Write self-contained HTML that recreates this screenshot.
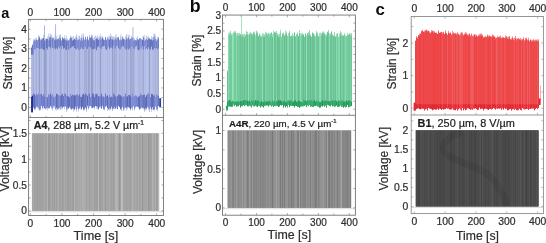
<!DOCTYPE html>
<html><head><meta charset="utf-8"><style>
html,body{margin:0;padding:0;background:#fff;width:546px;height:243px;overflow:hidden}
svg{display:block;will-change:transform;filter:blur(0.3px)}
text{font-family:"Liberation Sans", sans-serif}
</style></head><body>
<svg width="546" height="243" viewBox="0 0 546 243" font-family='"Liberation Sans", sans-serif'>
<rect width="546" height="243" fill="#fff"/>
<defs><filter id="soft" x="-5%" y="-5%" width="110%" height="110%"><feGaussianBlur stdDeviation="0.45"/></filter></defs>
<g filter="url(#soft)">
<rect x="31" y="46.49" width="1" height="60.64" fill="#c4caea"/>
<rect x="31" y="47.78" width="1" height="59.13" fill="#b1bbe3"/>
<rect x="31" y="47.78" width="1" height="6.85" fill="#6674ba"/>
<rect x="31" y="96.73" width="1" height="15.67" fill="#283ca5"/>
<rect x="32" y="44.69" width="1" height="64.76" fill="#c3c9e9"/>
<rect x="32" y="44.84" width="1" height="64.34" fill="#afb9e1"/>
<rect x="32" y="44.84" width="1" height="9.79" fill="#6977bd"/>
<rect x="32" y="95.62" width="1" height="16.77" fill="#1d319a"/>
<rect x="33" y="39.40" width="1" height="68.99" fill="#bdc3e3"/>
<rect x="33" y="41.91" width="1" height="65.29" fill="#a2acd4"/>
<rect x="33" y="41.91" width="1" height="12.73" fill="#8694da"/>
<rect x="33" y="93.61" width="1" height="13.59" fill="#6674be"/>
<rect x="34" y="39.13" width="1" height="71.37" fill="#c5cbeb"/>
<rect x="34" y="40.36" width="1" height="68.39" fill="#b2bce4"/>
<rect x="34" y="40.36" width="1" height="9.26" fill="#7a88ce"/>
<rect x="34" y="94.12" width="1" height="14.63" fill="#5d6bb5"/>
<rect x="35" y="37.97" width="1" height="72.01" fill="#c4caea"/>
<rect x="35" y="40.69" width="1" height="67.53" fill="#afb9e1"/>
<rect x="35" y="40.69" width="1" height="8.55" fill="#8492d8"/>
<rect x="35" y="95.64" width="1" height="12.58" fill="#7684ce"/>
<rect x="36" y="37.87" width="1" height="69.59" fill="#bdc3e3"/>
<rect x="36" y="39.97" width="1" height="66.63" fill="#a2acd4"/>
<rect x="36" y="39.97" width="1" height="7.68" fill="#7583c9"/>
<rect x="36" y="93.89" width="1" height="12.71" fill="#7886d0"/>
<rect x="37" y="40.18" width="1" height="68.01" fill="#c7cded"/>
<rect x="37" y="40.33" width="1" height="66.13" fill="#b6c0e8"/>
<rect x="37" y="40.33" width="1" height="7.69" fill="#808ed4"/>
<rect x="37" y="94.70" width="1" height="11.76" fill="#7280ca"/>
<rect x="38" y="35.30" width="1" height="74.30" fill="#c0c6e6"/>
<rect x="38" y="38.66" width="1" height="68.94" fill="#a9b3db"/>
<rect x="38" y="38.66" width="1" height="9.51" fill="#7e8cd2"/>
<rect x="38" y="93.62" width="1" height="13.98" fill="#8290da"/>
<rect x="39" y="36.17" width="1" height="74.59" fill="#b6bcdc"/>
<rect x="39" y="37.71" width="1" height="71.66" fill="#959fc7"/>
<rect x="39" y="37.71" width="1" height="11.20" fill="#6674ba"/>
<rect x="39" y="94.70" width="1" height="14.67" fill="#7987d1"/>
<rect x="40" y="38.86" width="1" height="71.63" fill="#c4caea"/>
<rect x="40" y="40.42" width="1" height="68.72" fill="#b1bbe3"/>
<rect x="40" y="40.42" width="1" height="8.64" fill="#8593d9"/>
<rect x="40" y="93.91" width="1" height="15.24" fill="#7d8bd5"/>
<rect x="41" y="38.40" width="1" height="67.76" fill="#c1c7e7"/>
<rect x="41" y="39.84" width="1" height="65.87" fill="#abb5dd"/>
<rect x="41" y="39.84" width="1" height="8.50" fill="#6d7bc1"/>
<rect x="41" y="93.86" width="1" height="11.85" fill="#6d7bc5"/>
<rect x="42" y="38.60" width="1" height="71.11" fill="#c8ceee"/>
<rect x="42" y="38.62" width="1" height="69.39" fill="#b7c1e9"/>
<rect x="42" y="38.62" width="1" height="10.38" fill="#7987cd"/>
<rect x="42" y="95.68" width="1" height="12.33" fill="#7381cb"/>
<rect x="43" y="34.68" width="1" height="73.75" fill="#c3c9e9"/>
<rect x="43" y="38.28" width="1" height="67.75" fill="#aeb8e0"/>
<rect x="43" y="38.28" width="1" height="11.62" fill="#6876bc"/>
<rect x="43" y="94.26" width="1" height="11.77" fill="#7381cb"/>
<rect x="44" y="39.85" width="1" height="68.43" fill="#b5bbdb"/>
<rect x="44" y="40.68" width="1" height="67.44" fill="#929cc4"/>
<rect x="44" y="40.68" width="1" height="9.16" fill="#6876bc"/>
<rect x="44" y="96.68" width="1" height="11.44" fill="#6977c1"/>
<rect x="45" y="38.37" width="1" height="71.14" fill="#b8bede"/>
<rect x="45" y="40.83" width="1" height="67.64" fill="#98a2ca"/>
<rect x="45" y="40.83" width="1" height="5.54" fill="#8694da"/>
<rect x="45" y="96.74" width="1" height="11.73" fill="#8290da"/>
<rect x="46" y="38.76" width="1" height="70.15" fill="#bcc2e2"/>
<rect x="46" y="39.10" width="1" height="69.01" fill="#9fa9d1"/>
<rect x="46" y="39.10" width="1" height="8.94" fill="#6573b9"/>
<rect x="46" y="96.92" width="1" height="11.20" fill="#808ed8"/>
<rect x="47" y="36.69" width="1" height="73.64" fill="#c7cded"/>
<rect x="47" y="38.86" width="1" height="68.53" fill="#b6c0e8"/>
<rect x="47" y="38.86" width="1" height="10.64" fill="#6e7cc2"/>
<rect x="47" y="97.21" width="1" height="10.18" fill="#6977c1"/>
<rect x="48" y="38.14" width="1" height="70.69" fill="#c6ccec"/>
<rect x="48" y="40.27" width="1" height="67.89" fill="#b5bfe7"/>
<rect x="48" y="40.27" width="1" height="6.53" fill="#8694da"/>
<rect x="48" y="94.27" width="1" height="13.90" fill="#7a88d2"/>
<rect x="49" y="36.82" width="1" height="71.34" fill="#c0c6e6"/>
<rect x="49" y="37.72" width="1" height="70.34" fill="#a8b2da"/>
<rect x="49" y="37.72" width="1" height="9.22" fill="#6e7cc2"/>
<rect x="49" y="95.29" width="1" height="12.77" fill="#7684ce"/>
<rect x="50" y="33.43" width="1" height="73.38" fill="#c2c8e8"/>
<rect x="50" y="37.18" width="1" height="68.54" fill="#acb6de"/>
<rect x="50" y="37.18" width="1" height="11.02" fill="#6c7ac0"/>
<rect x="50" y="93.45" width="1" height="12.27" fill="#6270ba"/>
<rect x="51" y="35.12" width="1" height="74.18" fill="#c1c7e7"/>
<rect x="51" y="38.48" width="1" height="68.42" fill="#a9b3db"/>
<rect x="51" y="38.48" width="1" height="7.77" fill="#8896dc"/>
<rect x="51" y="95.44" width="1" height="11.46" fill="#7987d1"/>
<rect x="52" y="37.28" width="1" height="73.28" fill="#c8ceee"/>
<rect x="52" y="37.99" width="1" height="70.17" fill="#b8c2ea"/>
<rect x="52" y="37.99" width="1" height="10.08" fill="#7482c8"/>
<rect x="52" y="94.23" width="1" height="13.93" fill="#808ed8"/>
<rect x="53" y="37.58" width="1" height="70.75" fill="#c1c7e7"/>
<rect x="53" y="38.09" width="1" height="67.82" fill="#aab4dc"/>
<rect x="53" y="38.09" width="1" height="11.31" fill="#8b99df"/>
<rect x="53" y="96.73" width="1" height="9.19" fill="#7482cc"/>
<rect x="54" y="39.03" width="1" height="68.57" fill="#c4caea"/>
<rect x="54" y="39.56" width="1" height="66.10" fill="#b0bae2"/>
<rect x="54" y="39.56" width="1" height="8.21" fill="#7583c9"/>
<rect x="54" y="97.26" width="1" height="8.39" fill="#7d8bd5"/>
<rect x="55" y="36.69" width="1" height="73.59" fill="#c2c8e8"/>
<rect x="55" y="37.69" width="1" height="70.82" fill="#acb6de"/>
<rect x="55" y="37.69" width="1" height="11.53" fill="#6977bd"/>
<rect x="55" y="96.17" width="1" height="12.34" fill="#7e8cd6"/>
<rect x="56" y="37.21" width="1" height="73.35" fill="#c4caea"/>
<rect x="56" y="39.54" width="1" height="68.27" fill="#b0bae2"/>
<rect x="56" y="39.54" width="1" height="8.61" fill="#7987cd"/>
<rect x="56" y="93.78" width="1" height="14.03" fill="#5b69b3"/>
<rect x="57" y="39.19" width="1" height="71.01" fill="#c6ccec"/>
<rect x="57" y="39.20" width="1" height="69.58" fill="#b4bee6"/>
<rect x="57" y="39.20" width="1" height="10.14" fill="#717fc5"/>
<rect x="57" y="94.19" width="1" height="14.59" fill="#6f7dc7"/>
<rect x="58" y="38.33" width="1" height="70.99" fill="#c6ccec"/>
<rect x="58" y="38.75" width="1" height="69.73" fill="#b4bee6"/>
<rect x="58" y="38.75" width="1" height="8.00" fill="#7a88ce"/>
<rect x="58" y="95.12" width="1" height="13.36" fill="#7886d0"/>
<rect x="59" y="34.90" width="1" height="74.63" fill="#c4caea"/>
<rect x="59" y="37.35" width="1" height="70.10" fill="#afb9e1"/>
<rect x="59" y="37.35" width="1" height="10.87" fill="#7785cb"/>
<rect x="59" y="95.34" width="1" height="12.11" fill="#808ed8"/>
<rect x="60" y="34.42" width="1" height="75.68" fill="#bcc2e2"/>
<rect x="60" y="38.19" width="1" height="69.08" fill="#9fa9d1"/>
<rect x="60" y="38.19" width="1" height="8.16" fill="#6977bd"/>
<rect x="60" y="96.30" width="1" height="10.97" fill="#6c7ac4"/>
<rect x="61" y="40.35" width="1" height="68.73" fill="#c1c7e7"/>
<rect x="61" y="40.64" width="1" height="65.74" fill="#aab4dc"/>
<rect x="61" y="40.64" width="1" height="8.45" fill="#7e8cd2"/>
<rect x="61" y="94.70" width="1" height="11.69" fill="#606eb8"/>
<rect x="62" y="36.59" width="1" height="72.77" fill="#c8ceee"/>
<rect x="62" y="37.47" width="1" height="70.43" fill="#b8c2ea"/>
<rect x="62" y="37.47" width="1" height="8.49" fill="#6a78be"/>
<rect x="62" y="93.59" width="1" height="14.31" fill="#6b79c3"/>
<rect x="63" y="38.13" width="1" height="68.56" fill="#c4caea"/>
<rect x="63" y="38.91" width="1" height="67.72" fill="#b1bbe3"/>
<rect x="63" y="38.91" width="1" height="9.76" fill="#6573b9"/>
<rect x="63" y="96.07" width="1" height="10.56" fill="#6775bf"/>
<rect x="64" y="38.23" width="1" height="71.06" fill="#c1c7e7"/>
<rect x="64" y="38.48" width="1" height="67.89" fill="#aab4dc"/>
<rect x="64" y="38.48" width="1" height="9.44" fill="#6674ba"/>
<rect x="64" y="93.46" width="1" height="12.91" fill="#7987d1"/>
<rect x="65" y="38.18" width="1" height="68.85" fill="#c1c7e7"/>
<rect x="65" y="39.87" width="1" height="66.38" fill="#aab4dc"/>
<rect x="65" y="39.87" width="1" height="9.70" fill="#7b89cf"/>
<rect x="65" y="93.75" width="1" height="12.50" fill="#7684ce"/>
<rect x="66" y="37.82" width="1" height="74.16" fill="#c5cbeb"/>
<rect x="66" y="40.58" width="1" height="68.60" fill="#b2bce4"/>
<rect x="66" y="40.58" width="1" height="9.31" fill="#6775bb"/>
<rect x="66" y="95.65" width="1" height="13.52" fill="#7c8ad4"/>
<rect x="67" y="38.85" width="1" height="71.22" fill="#b7bddd"/>
<rect x="67" y="40.67" width="1" height="66.63" fill="#96a0c8"/>
<rect x="67" y="40.67" width="1" height="5.75" fill="#7987cd"/>
<rect x="67" y="95.99" width="1" height="11.30" fill="#6472bc"/>
<rect x="68" y="40.30" width="1" height="68.85" fill="#c6ccec"/>
<rect x="68" y="40.50" width="1" height="67.74" fill="#b4bee6"/>
<rect x="68" y="40.50" width="1" height="8.94" fill="#7886cc"/>
<rect x="68" y="96.53" width="1" height="11.71" fill="#616fb9"/>
<rect x="69" y="38.57" width="1" height="69.67" fill="#c2c8e8"/>
<rect x="69" y="39.57" width="1" height="67.02" fill="#abb5dd"/>
<rect x="69" y="39.57" width="1" height="10.48" fill="#8997dd"/>
<rect x="69" y="97.26" width="1" height="9.33" fill="#5e6cb6"/>
<rect x="70" y="35.74" width="1" height="73.70" fill="#c6ccec"/>
<rect x="70" y="37.72" width="1" height="70.20" fill="#b3bde5"/>
<rect x="70" y="37.72" width="1" height="10.55" fill="#7280c6"/>
<rect x="70" y="94.05" width="1" height="13.87" fill="#7b89d3"/>
<rect x="71" y="36.54" width="1" height="73.09" fill="#c1c7e7"/>
<rect x="71" y="38.16" width="1" height="71.08" fill="#a9b3db"/>
<rect x="71" y="38.16" width="1" height="9.23" fill="#6e7cc2"/>
<rect x="71" y="95.96" width="1" height="13.29" fill="#616fb9"/>
<rect x="72" y="37.12" width="1" height="71.97" fill="#c2c8e8"/>
<rect x="72" y="40.60" width="1" height="67.76" fill="#adb7df"/>
<rect x="72" y="40.60" width="1" height="5.91" fill="#6a78be"/>
<rect x="72" y="94.69" width="1" height="13.66" fill="#6c7ac4"/>
<rect x="73" y="36.01" width="1" height="75.39" fill="#c2c8e8"/>
<rect x="73" y="39.90" width="1" height="68.60" fill="#adb7df"/>
<rect x="73" y="39.90" width="1" height="6.09" fill="#6472b8"/>
<rect x="73" y="95.18" width="1" height="13.32" fill="#6977c1"/>
<rect x="74" y="38.27" width="1" height="71.97" fill="#c1c7e7"/>
<rect x="74" y="39.07" width="1" height="70.37" fill="#a9b3db"/>
<rect x="74" y="39.07" width="1" height="8.90" fill="#6674ba"/>
<rect x="74" y="95.34" width="1" height="14.10" fill="#5b69b3"/>
<rect x="75" y="37.39" width="1" height="71.10" fill="#c6ccec"/>
<rect x="75" y="39.74" width="1" height="66.78" fill="#b3bde5"/>
<rect x="75" y="39.74" width="1" height="9.39" fill="#7482c8"/>
<rect x="75" y="95.25" width="1" height="11.27" fill="#6775bf"/>
<rect x="76" y="34.18" width="1" height="77.62" fill="#c7cded"/>
<rect x="76" y="37.07" width="1" height="72.21" fill="#b6c0e8"/>
<rect x="76" y="37.07" width="1" height="12.41" fill="#818fd5"/>
<rect x="76" y="94.80" width="1" height="14.49" fill="#7a88d2"/>
<rect x="77" y="38.36" width="1" height="70.42" fill="#c5cbeb"/>
<rect x="77" y="40.38" width="1" height="65.92" fill="#b1bbe3"/>
<rect x="77" y="40.38" width="1" height="7.49" fill="#7f8dd3"/>
<rect x="77" y="94.05" width="1" height="12.26" fill="#7684ce"/>
<rect x="78" y="39.50" width="1" height="72.06" fill="#c4caea"/>
<rect x="78" y="40.03" width="1" height="69.02" fill="#b1bbe3"/>
<rect x="78" y="40.03" width="1" height="9.97" fill="#7d8bd1"/>
<rect x="78" y="95.91" width="1" height="13.14" fill="#7583cd"/>
<rect x="79" y="35.82" width="1" height="73.27" fill="#bac0e0"/>
<rect x="79" y="39.01" width="1" height="68.48" fill="#9da7cf"/>
<rect x="79" y="39.01" width="1" height="11.10" fill="#818fd5"/>
<rect x="79" y="94.39" width="1" height="13.10" fill="#6472bc"/>
<rect x="80" y="37.72" width="1" height="71.77" fill="#c4caea"/>
<rect x="80" y="40.64" width="1" height="65.92" fill="#b0bae2"/>
<rect x="80" y="40.64" width="1" height="8.35" fill="#7785cb"/>
<rect x="80" y="96.51" width="1" height="10.05" fill="#7583cd"/>
<rect x="81" y="35.35" width="1" height="74.29" fill="#c6ccec"/>
<rect x="81" y="37.92" width="1" height="70.96" fill="#b4bee6"/>
<rect x="81" y="37.92" width="1" height="9.55" fill="#7b89cf"/>
<rect x="81" y="97.02" width="1" height="11.87" fill="#5a68b2"/>
<rect x="82" y="38.00" width="1" height="69.68" fill="#c4caea"/>
<rect x="82" y="40.69" width="1" height="66.12" fill="#b0bae2"/>
<rect x="82" y="40.69" width="1" height="8.28" fill="#7785cb"/>
<rect x="82" y="94.61" width="1" height="12.20" fill="#5f6db7"/>
<rect x="83" y="33.52" width="1" height="77.25" fill="#c7cded"/>
<rect x="83" y="37.43" width="1" height="71.96" fill="#b5bfe7"/>
<rect x="83" y="37.43" width="1" height="11.84" fill="#7684ca"/>
<rect x="83" y="93.65" width="1" height="15.74" fill="#6573bd"/>
<rect x="84" y="39.26" width="1" height="71.21" fill="#bdc3e3"/>
<rect x="84" y="40.11" width="1" height="68.80" fill="#a1abd3"/>
<rect x="84" y="40.11" width="1" height="5.95" fill="#8593d9"/>
<rect x="84" y="95.04" width="1" height="13.86" fill="#6e7cc6"/>
<rect x="85" y="36.53" width="1" height="71.10" fill="#c0c6e6"/>
<rect x="85" y="37.46" width="1" height="70.10" fill="#a8b2da"/>
<rect x="85" y="37.46" width="1" height="9.65" fill="#7684ca"/>
<rect x="85" y="93.80" width="1" height="13.75" fill="#6674be"/>
<rect x="86" y="39.11" width="1" height="72.59" fill="#bcc2e2"/>
<rect x="86" y="40.38" width="1" height="69.07" fill="#9fa9d1"/>
<rect x="86" y="40.38" width="1" height="8.27" fill="#8997dd"/>
<rect x="86" y="94.03" width="1" height="15.42" fill="#7785cf"/>
<rect x="87" y="35.91" width="1" height="71.41" fill="#c3c9e9"/>
<rect x="87" y="37.40" width="1" height="68.15" fill="#aeb8e0"/>
<rect x="87" y="37.40" width="1" height="11.48" fill="#6f7dc3"/>
<rect x="87" y="95.78" width="1" height="9.77" fill="#5c6ab4"/>
<rect x="88" y="39.39" width="1" height="69.89" fill="#b9bfdf"/>
<rect x="88" y="40.53" width="1" height="67.95" fill="#9aa4cc"/>
<rect x="88" y="40.53" width="1" height="6.01" fill="#7381c7"/>
<rect x="88" y="93.65" width="1" height="14.83" fill="#808ed8"/>
<rect x="89" y="34.94" width="1" height="72.48" fill="#bbc1e1"/>
<rect x="89" y="37.47" width="1" height="68.31" fill="#9ea8d0"/>
<rect x="89" y="37.47" width="1" height="9.17" fill="#818fd5"/>
<rect x="89" y="93.74" width="1" height="12.03" fill="#6c7ac4"/>
<rect x="90" y="36.84" width="1" height="69.37" fill="#c4caea"/>
<rect x="90" y="37.98" width="1" height="67.85" fill="#b0bae2"/>
<rect x="90" y="37.98" width="1" height="9.37" fill="#707ec4"/>
<rect x="90" y="97.13" width="1" height="8.70" fill="#7886d0"/>
<rect x="91" y="34.48" width="1" height="73.98" fill="#b6bcdc"/>
<rect x="91" y="37.10" width="1" height="70.17" fill="#959fc7"/>
<rect x="91" y="37.10" width="1" height="11.91" fill="#6c7ac0"/>
<rect x="91" y="96.14" width="1" height="11.14" fill="#7e8cd6"/>
<rect x="92" y="35.36" width="1" height="72.76" fill="#b7bddd"/>
<rect x="92" y="38.98" width="1" height="68.71" fill="#959fc7"/>
<rect x="92" y="38.98" width="1" height="10.20" fill="#7280c6"/>
<rect x="92" y="93.42" width="1" height="14.28" fill="#5e6cb6"/>
<rect x="93" y="37.71" width="1" height="70.05" fill="#c3c9e9"/>
<rect x="93" y="39.99" width="1" height="66.53" fill="#afb9e1"/>
<rect x="93" y="39.99" width="1" height="9.03" fill="#7381c7"/>
<rect x="93" y="93.84" width="1" height="12.68" fill="#6876c0"/>
<rect x="94" y="36.81" width="1" height="72.56" fill="#c7cded"/>
<rect x="94" y="40.68" width="1" height="66.80" fill="#b6c0e8"/>
<rect x="94" y="40.68" width="1" height="8.25" fill="#6f7dc3"/>
<rect x="94" y="96.83" width="1" height="10.66" fill="#6472bc"/>
<rect x="95" y="35.55" width="1" height="70.56" fill="#c0c6e6"/>
<rect x="95" y="39.36" width="1" height="66.68" fill="#a9b3db"/>
<rect x="95" y="39.36" width="1" height="8.85" fill="#8896dc"/>
<rect x="95" y="93.99" width="1" height="12.04" fill="#6d7bc5"/>
<rect x="96" y="37.06" width="1" height="71.73" fill="#c8ceee"/>
<rect x="96" y="38.63" width="1" height="67.60" fill="#b8c2ea"/>
<rect x="96" y="38.63" width="1" height="11.50" fill="#6876bc"/>
<rect x="96" y="93.69" width="1" height="12.54" fill="#606eb8"/>
<rect x="97" y="35.12" width="1" height="74.10" fill="#c4caea"/>
<rect x="97" y="38.88" width="1" height="68.04" fill="#afb9e1"/>
<rect x="97" y="38.88" width="1" height="8.31" fill="#6674ba"/>
<rect x="97" y="94.49" width="1" height="12.43" fill="#7987d1"/>
<rect x="98" y="37.44" width="1" height="72.28" fill="#c5cbeb"/>
<rect x="98" y="40.02" width="1" height="68.94" fill="#b2bce4"/>
<rect x="98" y="40.02" width="1" height="6.15" fill="#6876bc"/>
<rect x="98" y="96.13" width="1" height="12.83" fill="#5d6bb5"/>
<rect x="99" y="37.32" width="1" height="69.81" fill="#c2c8e8"/>
<rect x="99" y="38.87" width="1" height="68.23" fill="#adb7df"/>
<rect x="99" y="38.87" width="1" height="8.75" fill="#8a98de"/>
<rect x="99" y="96.44" width="1" height="10.66" fill="#7482cc"/>
<rect x="100" y="36.53" width="1" height="71.28" fill="#b7bddd"/>
<rect x="100" y="37.47" width="1" height="68.23" fill="#97a1c9"/>
<rect x="100" y="37.47" width="1" height="10.62" fill="#7886cc"/>
<rect x="100" y="96.35" width="1" height="9.35" fill="#7583cd"/>
<rect x="101" y="36.61" width="1" height="72.06" fill="#c3c9e9"/>
<rect x="101" y="39.28" width="1" height="69.29" fill="#adb7df"/>
<rect x="101" y="39.28" width="1" height="9.74" fill="#7f8dd3"/>
<rect x="101" y="93.70" width="1" height="14.87" fill="#6270ba"/>
<rect x="102" y="35.79" width="1" height="70.81" fill="#c7cded"/>
<rect x="102" y="37.81" width="1" height="67.85" fill="#b5bfe7"/>
<rect x="102" y="37.81" width="1" height="9.14" fill="#6d7bc1"/>
<rect x="102" y="96.51" width="1" height="9.15" fill="#7886d0"/>
<rect x="103" y="37.79" width="1" height="72.04" fill="#c5cbeb"/>
<rect x="103" y="39.77" width="1" height="68.81" fill="#b3bde5"/>
<rect x="103" y="39.77" width="1" height="6.26" fill="#6a78be"/>
<rect x="103" y="96.58" width="1" height="12.00" fill="#6a78c2"/>
<rect x="104" y="39.53" width="1" height="70.88" fill="#c7cded"/>
<rect x="104" y="40.09" width="1" height="69.13" fill="#b6c0e8"/>
<rect x="104" y="40.09" width="1" height="5.84" fill="#818fd5"/>
<rect x="104" y="97.12" width="1" height="12.11" fill="#8290da"/>
<rect x="105" y="36.54" width="1" height="70.09" fill="#c5cbeb"/>
<rect x="105" y="37.28" width="1" height="69.26" fill="#b3bde5"/>
<rect x="105" y="37.28" width="1" height="11.43" fill="#7381c7"/>
<rect x="105" y="93.65" width="1" height="12.88" fill="#6775bf"/>
<rect x="106" y="39.15" width="1" height="66.94" fill="#c8ceee"/>
<rect x="106" y="40.27" width="1" height="65.45" fill="#b7c1e9"/>
<rect x="106" y="40.27" width="1" height="9.85" fill="#7280c6"/>
<rect x="106" y="95.94" width="1" height="9.77" fill="#7b89d3"/>
<rect x="107" y="37.51" width="1" height="73.24" fill="#c2c8e8"/>
<rect x="107" y="37.71" width="1" height="70.29" fill="#abb5dd"/>
<rect x="107" y="37.71" width="1" height="10.56" fill="#8896dc"/>
<rect x="107" y="95.46" width="1" height="12.53" fill="#5b69b3"/>
<rect x="108" y="36.25" width="1" height="73.26" fill="#c7cded"/>
<rect x="108" y="39.32" width="1" height="70.00" fill="#b7c1e9"/>
<rect x="108" y="39.32" width="1" height="7.31" fill="#8290d6"/>
<rect x="108" y="97.16" width="1" height="12.16" fill="#7e8cd6"/>
<rect x="109" y="35.77" width="1" height="74.81" fill="#c3c9e9"/>
<rect x="109" y="39.60" width="1" height="68.83" fill="#adb7df"/>
<rect x="109" y="39.60" width="1" height="9.36" fill="#6472b8"/>
<rect x="109" y="94.90" width="1" height="13.53" fill="#7886d0"/>
<rect x="110" y="33.57" width="1" height="76.40" fill="#c8ceee"/>
<rect x="110" y="37.34" width="1" height="71.20" fill="#b7c1e9"/>
<rect x="110" y="37.34" width="1" height="10.06" fill="#7381c7"/>
<rect x="110" y="97.22" width="1" height="11.32" fill="#6472bc"/>
<rect x="111" y="35.53" width="1" height="73.00" fill="#c7cded"/>
<rect x="111" y="39.24" width="1" height="67.07" fill="#b5bfe7"/>
<rect x="111" y="39.24" width="1" height="8.76" fill="#7c8ad0"/>
<rect x="111" y="96.60" width="1" height="9.71" fill="#6775bf"/>
<rect x="112" y="36.55" width="1" height="74.40" fill="#b7bddd"/>
<rect x="112" y="39.68" width="1" height="69.01" fill="#96a0c8"/>
<rect x="112" y="39.68" width="1" height="8.90" fill="#6573b9"/>
<rect x="112" y="97.01" width="1" height="11.68" fill="#707ec8"/>
<rect x="113" y="36.12" width="1" height="72.55" fill="#c1c7e7"/>
<rect x="113" y="39.65" width="1" height="68.77" fill="#aab4dc"/>
<rect x="113" y="39.65" width="1" height="6.26" fill="#808ed4"/>
<rect x="113" y="93.45" width="1" height="14.97" fill="#6c7ac4"/>
<rect x="114" y="37.53" width="1" height="71.54" fill="#bac0e0"/>
<rect x="114" y="40.01" width="1" height="66.52" fill="#9da7cf"/>
<rect x="114" y="40.01" width="1" height="8.32" fill="#8694da"/>
<rect x="114" y="94.68" width="1" height="11.85" fill="#6674be"/>
<rect x="115" y="35.76" width="1" height="73.47" fill="#c1c7e7"/>
<rect x="115" y="38.71" width="1" height="69.78" fill="#aab4dc"/>
<rect x="115" y="38.71" width="1" height="9.82" fill="#7b89cf"/>
<rect x="115" y="96.54" width="1" height="11.95" fill="#6775bf"/>
<rect x="116" y="37.35" width="1" height="70.90" fill="#bdc3e3"/>
<rect x="116" y="39.38" width="1" height="66.92" fill="#a2acd4"/>
<rect x="116" y="39.38" width="1" height="6.48" fill="#7785cb"/>
<rect x="116" y="96.41" width="1" height="9.88" fill="#7b89d3"/>
<rect x="117" y="37.47" width="1" height="72.08" fill="#c8ceee"/>
<rect x="117" y="37.64" width="1" height="71.35" fill="#b8c2ea"/>
<rect x="117" y="37.64" width="1" height="8.56" fill="#8997dd"/>
<rect x="117" y="96.17" width="1" height="12.82" fill="#6977c1"/>
<rect x="118" y="36.50" width="1" height="69.58" fill="#c5cbeb"/>
<rect x="118" y="37.54" width="1" height="68.22" fill="#b2bce4"/>
<rect x="118" y="37.54" width="1" height="10.66" fill="#6d7bc1"/>
<rect x="118" y="94.27" width="1" height="11.48" fill="#6977c1"/>
<rect x="119" y="39.35" width="1" height="68.16" fill="#c0c6e6"/>
<rect x="119" y="40.37" width="1" height="66.53" fill="#a8b2da"/>
<rect x="119" y="40.37" width="1" height="8.88" fill="#7f8dd3"/>
<rect x="119" y="94.97" width="1" height="11.94" fill="#616fb9"/>
<rect x="120" y="36.52" width="1" height="72.99" fill="#c3c9e9"/>
<rect x="120" y="39.71" width="1" height="69.50" fill="#aeb8e0"/>
<rect x="120" y="39.71" width="1" height="9.55" fill="#7e8cd2"/>
<rect x="120" y="95.17" width="1" height="14.04" fill="#5e6cb6"/>
<rect x="121" y="38.65" width="1" height="72.47" fill="#c2c8e8"/>
<rect x="121" y="40.29" width="1" height="67.97" fill="#adb7df"/>
<rect x="121" y="40.29" width="1" height="6.85" fill="#7280c6"/>
<rect x="121" y="96.21" width="1" height="12.04" fill="#6b79c3"/>
<rect x="122" y="36.09" width="1" height="71.13" fill="#c0c6e6"/>
<rect x="122" y="37.54" width="1" height="69.06" fill="#a8b2da"/>
<rect x="122" y="37.54" width="1" height="8.29" fill="#7583c9"/>
<rect x="122" y="96.55" width="1" height="10.06" fill="#7b89d3"/>
<rect x="123" y="37.49" width="1" height="73.56" fill="#c5cbeb"/>
<rect x="123" y="39.34" width="1" height="70.06" fill="#b2bce4"/>
<rect x="123" y="39.34" width="1" height="6.99" fill="#6876bc"/>
<rect x="123" y="96.68" width="1" height="12.72" fill="#7381cb"/>
<rect x="124" y="38.89" width="1" height="71.30" fill="#c1c7e7"/>
<rect x="124" y="39.48" width="1" height="67.94" fill="#aab4dc"/>
<rect x="124" y="39.48" width="1" height="8.48" fill="#8492d8"/>
<rect x="124" y="96.21" width="1" height="11.21" fill="#818fd9"/>
<rect x="125" y="36.38" width="1" height="71.34" fill="#c7cded"/>
<rect x="125" y="40.16" width="1" height="67.41" fill="#b7c1e9"/>
<rect x="125" y="40.16" width="1" height="9.43" fill="#8896dc"/>
<rect x="125" y="93.50" width="1" height="14.07" fill="#7381cb"/>
<rect x="126" y="34.56" width="1" height="75.86" fill="#bcc2e2"/>
<rect x="126" y="37.70" width="1" height="70.17" fill="#9fa9d1"/>
<rect x="126" y="37.70" width="1" height="11.74" fill="#6d7bc1"/>
<rect x="126" y="96.45" width="1" height="11.43" fill="#6a78c2"/>
<rect x="127" y="38.41" width="1" height="70.90" fill="#c0c6e6"/>
<rect x="127" y="38.90" width="1" height="67.72" fill="#a9b3db"/>
<rect x="127" y="38.90" width="1" height="9.58" fill="#8290d6"/>
<rect x="127" y="96.35" width="1" height="10.27" fill="#5c6ab4"/>
<rect x="128" y="35.25" width="1" height="72.67" fill="#c3c9e9"/>
<rect x="128" y="37.65" width="1" height="69.36" fill="#afb9e1"/>
<rect x="128" y="37.65" width="1" height="11.98" fill="#7583c9"/>
<rect x="128" y="95.16" width="1" height="11.84" fill="#7482cc"/>
<rect x="129" y="39.08" width="1" height="69.16" fill="#c6ccec"/>
<rect x="129" y="39.18" width="1" height="68.36" fill="#b4bee6"/>
<rect x="129" y="39.18" width="1" height="9.06" fill="#7684ca"/>
<rect x="129" y="94.89" width="1" height="12.65" fill="#616fb9"/>
<rect x="130" y="38.56" width="1" height="71.86" fill="#b9bfdf"/>
<rect x="130" y="39.07" width="1" height="70.02" fill="#9aa4cc"/>
<rect x="130" y="39.07" width="1" height="10.59" fill="#7d8bd1"/>
<rect x="130" y="95.63" width="1" height="13.47" fill="#5d6bb5"/>
<rect x="131" y="36.01" width="1" height="72.61" fill="#bdc3e3"/>
<rect x="131" y="38.06" width="1" height="69.43" fill="#a1abd3"/>
<rect x="131" y="38.06" width="1" height="8.73" fill="#8694da"/>
<rect x="131" y="97.11" width="1" height="10.38" fill="#8290da"/>
<rect x="132" y="37.29" width="1" height="73.12" fill="#bcc2e2"/>
<rect x="132" y="38.06" width="1" height="69.47" fill="#a1abd3"/>
<rect x="132" y="38.06" width="1" height="8.56" fill="#8492d8"/>
<rect x="132" y="93.47" width="1" height="14.06" fill="#7f8dd7"/>
<rect x="133" y="37.65" width="1" height="69.13" fill="#bcc2e2"/>
<rect x="133" y="40.67" width="1" height="65.28" fill="#9fa9d1"/>
<rect x="133" y="40.67" width="1" height="7.95" fill="#7886cc"/>
<rect x="133" y="96.70" width="1" height="9.25" fill="#7f8dd7"/>
<rect x="134" y="38.09" width="1" height="71.77" fill="#c1c7e7"/>
<rect x="134" y="40.11" width="1" height="69.20" fill="#abb5dd"/>
<rect x="134" y="40.11" width="1" height="8.89" fill="#7f8dd3"/>
<rect x="134" y="96.07" width="1" height="13.24" fill="#7e8cd6"/>
<rect x="135" y="39.81" width="1" height="68.24" fill="#c7cded"/>
<rect x="135" y="40.27" width="1" height="66.70" fill="#b6c0e8"/>
<rect x="135" y="40.27" width="1" height="6.48" fill="#7b89cf"/>
<rect x="135" y="95.24" width="1" height="11.73" fill="#7d8bd5"/>
<rect x="136" y="38.00" width="1" height="69.13" fill="#c8ceee"/>
<rect x="136" y="40.52" width="1" height="65.82" fill="#b8c2ea"/>
<rect x="136" y="40.52" width="1" height="5.33" fill="#7280c6"/>
<rect x="136" y="95.77" width="1" height="10.56" fill="#7987d1"/>
<rect x="137" y="36.22" width="1" height="70.79" fill="#c5cbeb"/>
<rect x="137" y="39.20" width="1" height="67.05" fill="#b2bce4"/>
<rect x="137" y="39.20" width="1" height="10.17" fill="#7b89cf"/>
<rect x="137" y="97.13" width="1" height="9.12" fill="#7583cd"/>
<rect x="138" y="39.57" width="1" height="68.77" fill="#c4caea"/>
<rect x="138" y="39.70" width="1" height="67.34" fill="#b0bae2"/>
<rect x="138" y="39.70" width="1" height="10.42" fill="#6977bd"/>
<rect x="138" y="96.73" width="1" height="10.31" fill="#6371bb"/>
<rect x="139" y="38.36" width="1" height="71.75" fill="#c2c8e8"/>
<rect x="139" y="38.37" width="1" height="70.67" fill="#acb6de"/>
<rect x="139" y="38.37" width="1" height="11.66" fill="#7c8ad0"/>
<rect x="139" y="95.93" width="1" height="13.11" fill="#6270ba"/>
<rect x="140" y="37.95" width="1" height="71.01" fill="#c1c7e7"/>
<rect x="140" y="38.48" width="1" height="70.02" fill="#aab4dc"/>
<rect x="140" y="38.48" width="1" height="9.60" fill="#8795db"/>
<rect x="140" y="93.65" width="1" height="14.85" fill="#7987d1"/>
<rect x="141" y="39.31" width="1" height="69.00" fill="#c5cbeb"/>
<rect x="141" y="39.35" width="1" height="67.90" fill="#b2bce4"/>
<rect x="141" y="39.35" width="1" height="9.64" fill="#8997dd"/>
<rect x="141" y="94.79" width="1" height="12.46" fill="#7785cf"/>
<rect x="142" y="39.78" width="1" height="68.80" fill="#c0c6e6"/>
<rect x="142" y="39.95" width="1" height="67.91" fill="#a9b3db"/>
<rect x="142" y="39.95" width="1" height="6.28" fill="#6472b8"/>
<rect x="142" y="95.24" width="1" height="12.63" fill="#707ec8"/>
<rect x="143" y="36.45" width="1" height="72.95" fill="#bcc2e2"/>
<rect x="143" y="37.24" width="1" height="70.23" fill="#9fa9d1"/>
<rect x="143" y="37.24" width="1" height="12.27" fill="#707ec4"/>
<rect x="143" y="94.94" width="1" height="12.54" fill="#6674be"/>
<rect x="144" y="37.61" width="1" height="74.36" fill="#c6ccec"/>
<rect x="144" y="40.74" width="1" height="68.70" fill="#b4bee6"/>
<rect x="144" y="40.74" width="1" height="5.56" fill="#8290d6"/>
<rect x="144" y="94.52" width="1" height="14.92" fill="#6c7ac4"/>
<rect x="145" y="39.11" width="1" height="71.28" fill="#c6ccec"/>
<rect x="145" y="40.04" width="1" height="68.10" fill="#b3bde5"/>
<rect x="145" y="40.04" width="1" height="9.63" fill="#808ed4"/>
<rect x="145" y="97.17" width="1" height="10.98" fill="#6573bd"/>
<rect x="146" y="35.61" width="1" height="74.74" fill="#c8ceee"/>
<rect x="146" y="38.76" width="1" height="69.66" fill="#b7c1e9"/>
<rect x="146" y="38.76" width="1" height="9.49" fill="#8795db"/>
<rect x="146" y="95.27" width="1" height="13.15" fill="#5b69b3"/>
<rect x="147" y="36.93" width="1" height="70.58" fill="#c7cded"/>
<rect x="147" y="39.91" width="1" height="66.63" fill="#b6c0e8"/>
<rect x="147" y="39.91" width="1" height="9.21" fill="#6e7cc2"/>
<rect x="147" y="93.62" width="1" height="12.92" fill="#7e8cd6"/>
<rect x="148" y="35.80" width="1" height="74.34" fill="#c6ccec"/>
<rect x="148" y="38.46" width="1" height="69.16" fill="#b3bde5"/>
<rect x="148" y="38.46" width="1" height="8.69" fill="#7583c9"/>
<rect x="148" y="93.48" width="1" height="14.13" fill="#7785cf"/>
<rect x="149" y="37.85" width="1" height="74.04" fill="#b6bcdc"/>
<rect x="149" y="38.69" width="1" height="70.46" fill="#949ec6"/>
<rect x="149" y="38.69" width="1" height="10.11" fill="#6876bc"/>
<rect x="149" y="94.88" width="1" height="14.27" fill="#7f8dd7"/>
<rect x="150" y="39.46" width="1" height="69.18" fill="#c6ccec"/>
<rect x="150" y="39.58" width="1" height="67.17" fill="#b3bde5"/>
<rect x="150" y="39.58" width="1" height="9.94" fill="#6775bb"/>
<rect x="150" y="97.16" width="1" height="9.59" fill="#7280ca"/>
<rect x="151" y="36.23" width="1" height="75.58" fill="#c7cded"/>
<rect x="151" y="39.50" width="1" height="69.69" fill="#b7c1e9"/>
<rect x="151" y="39.50" width="1" height="7.10" fill="#6876bc"/>
<rect x="151" y="93.83" width="1" height="15.37" fill="#6270ba"/>
<rect x="152" y="37.10" width="1" height="72.35" fill="#c5cbeb"/>
<rect x="152" y="40.49" width="1" height="66.49" fill="#b2bce4"/>
<rect x="152" y="40.49" width="1" height="9.49" fill="#6876bc"/>
<rect x="152" y="94.14" width="1" height="12.84" fill="#5e6cb6"/>
<rect x="153" y="36.69" width="1" height="73.46" fill="#c2c8e8"/>
<rect x="153" y="37.96" width="1" height="71.41" fill="#adb7df"/>
<rect x="153" y="37.96" width="1" height="11.29" fill="#7381c7"/>
<rect x="153" y="95.66" width="1" height="13.72" fill="#6775bf"/>
<rect x="154" y="33.75" width="1" height="76.83" fill="#c3c9e9"/>
<rect x="154" y="37.15" width="1" height="72.18" fill="#afb9e1"/>
<rect x="154" y="37.15" width="1" height="10.81" fill="#7280c6"/>
<rect x="154" y="94.90" width="1" height="14.44" fill="#7684ce"/>
<rect x="155" y="35.37" width="1" height="71.39" fill="#c0c6e6"/>
<rect x="155" y="38.82" width="1" height="67.43" fill="#a8b2da"/>
<rect x="155" y="38.82" width="1" height="10.38" fill="#8290d6"/>
<rect x="155" y="96.96" width="1" height="9.29" fill="#818fd9"/>
<rect x="156" y="38.94" width="1" height="71.27" fill="#c3c9e9"/>
<rect x="156" y="40.91" width="1" height="67.82" fill="#aeb8e0"/>
<rect x="156" y="40.91" width="1" height="7.11" fill="#6e7cc2"/>
<rect x="156" y="94.20" width="1" height="14.54" fill="#808ed8"/>
<rect x="157" y="37.02" width="1" height="73.92" fill="#c1c7e7"/>
<rect x="157" y="39.82" width="1" height="69.21" fill="#a9b3db"/>
<rect x="157" y="39.82" width="1" height="9.39" fill="#808ed4"/>
<rect x="157" y="95.37" width="1" height="13.66" fill="#7987d1"/>
<rect x="158" y="36.86" width="1" height="69.37" fill="#bcc2e2"/>
<rect x="158" y="38.47" width="1" height="67.50" fill="#a0aad2"/>
<rect x="158" y="38.47" width="1" height="10.13" fill="#6c7ac0"/>
<rect x="158" y="95.77" width="1" height="10.20" fill="#6573bd"/>
<rect x="159.2" y="98" width="1.9" height="9.5" rx="0.8" fill="#2c42a2"/>
<line x1="44.51" y1="25.26" x2="44.51" y2="40.93" stroke="#8a98d8" stroke-width="0.7"/>
<line x1="55.56" y1="24.29" x2="55.56" y2="40.93" stroke="#8a98d8" stroke-width="0.7"/>
<line x1="132.94" y1="27.22" x2="132.94" y2="40.93" stroke="#8a98d8" stroke-width="0.7"/>
<line x1="144.77" y1="34.85" x2="144.77" y2="39.95" stroke="#aab4e2" stroke-width="0.6"/>
<line x1="82.13" y1="33.50" x2="82.13" y2="39.95" stroke="#aab4e2" stroke-width="0.6"/>
<line x1="64.65" y1="35.00" x2="64.65" y2="39.95" stroke="#aab4e2" stroke-width="0.6"/>
<line x1="100.40" y1="33.96" x2="100.40" y2="39.95" stroke="#aab4e2" stroke-width="0.6"/>
<line x1="126.98" y1="34.34" x2="126.98" y2="39.95" stroke="#aab4e2" stroke-width="0.6"/>
<line x1="78.44" y1="35.47" x2="78.44" y2="39.95" stroke="#aab4e2" stroke-width="0.6"/>
<line x1="55.26" y1="33.65" x2="55.26" y2="39.95" stroke="#aab4e2" stroke-width="0.6"/>
<line x1="116.07" y1="34.01" x2="116.07" y2="39.95" stroke="#aab4e2" stroke-width="0.6"/>
<line x1="56.96" y1="35.07" x2="56.96" y2="39.95" stroke="#aab4e2" stroke-width="0.6"/>
<line x1="129.43" y1="34.58" x2="129.43" y2="39.95" stroke="#aab4e2" stroke-width="0.6"/>
<line x1="51.74" y1="34.99" x2="51.74" y2="39.95" stroke="#aab4e2" stroke-width="0.6"/>
<line x1="142.83" y1="35.78" x2="142.83" y2="39.95" stroke="#aab4e2" stroke-width="0.6"/>
<line x1="59.61" y1="35.56" x2="59.61" y2="39.95" stroke="#aab4e2" stroke-width="0.6"/>
<line x1="121.00" y1="33.65" x2="121.00" y2="39.95" stroke="#aab4e2" stroke-width="0.6"/>
<line x1="55.17" y1="36.07" x2="55.17" y2="39.95" stroke="#aab4e2" stroke-width="0.6"/>
<line x1="66.33" y1="35.47" x2="66.33" y2="39.95" stroke="#aab4e2" stroke-width="0.6"/>
<line x1="99.28" y1="36.05" x2="99.28" y2="39.95" stroke="#aab4e2" stroke-width="0.6"/>
<line x1="75.99" y1="35.95" x2="75.99" y2="39.95" stroke="#aab4e2" stroke-width="0.6"/>
<line x1="153.64" y1="34.05" x2="153.64" y2="39.95" stroke="#aab4e2" stroke-width="0.6"/>
<line x1="48.83" y1="33.23" x2="48.83" y2="39.95" stroke="#aab4e2" stroke-width="0.6"/>
<line x1="48.81" y1="35.27" x2="48.81" y2="39.95" stroke="#aab4e2" stroke-width="0.6"/>
<line x1="154.68" y1="33.82" x2="154.68" y2="39.95" stroke="#aab4e2" stroke-width="0.6"/>
<rect x="227" y="70.12" width="1" height="35.24" fill="#9edaba"/>
<rect x="227" y="71.64" width="1" height="33.54" fill="#6ac092"/>
<rect x="227" y="101.82" width="1" height="3.53" fill="#25975b"/>
<rect x="228" y="32.44" width="1" height="74.01" fill="#a9e5c5"/>
<rect x="228" y="35.21" width="1" height="70.23" fill="#85dbad"/>
<rect x="228" y="100.58" width="1" height="5.88" fill="#35a76b"/>
<rect x="229" y="32.59" width="1" height="73.90" fill="#a2debe"/>
<rect x="229" y="35.18" width="1" height="70.39" fill="#75cb9d"/>
<rect x="229" y="100.04" width="1" height="6.45" fill="#2a9c60"/>
<rect x="230" y="30.51" width="1" height="75.92" fill="#a1ddbd"/>
<rect x="230" y="33.59" width="1" height="71.48" fill="#74ca9c"/>
<rect x="230" y="100.38" width="1" height="6.06" fill="#31a367"/>
<rect x="231" y="33.44" width="1" height="73.40" fill="#a2debe"/>
<rect x="231" y="35.64" width="1" height="69.95" fill="#74ca9c"/>
<rect x="231" y="102.07" width="1" height="4.78" fill="#2b9d61"/>
<rect x="232" y="33.50" width="1" height="73.20" fill="#ace8c8"/>
<rect x="232" y="35.09" width="1" height="70.53" fill="#8fe5b7"/>
<rect x="232" y="100.76" width="1" height="5.94" fill="#36a86c"/>
<rect x="233" y="31.95" width="1" height="72.66" fill="#a9e5c5"/>
<rect x="233" y="33.31" width="1" height="71.24" fill="#87ddaf"/>
<rect x="233" y="101.09" width="1" height="3.53" fill="#3aac70"/>
<rect x="234" y="30.68" width="1" height="75.49" fill="#a2debe"/>
<rect x="234" y="32.50" width="1" height="72.80" fill="#74ca9c"/>
<rect x="234" y="102.06" width="1" height="4.11" fill="#36a86c"/>
<rect x="235" y="31.23" width="1" height="73.71" fill="#a1ddbd"/>
<rect x="235" y="33.06" width="1" height="71.54" fill="#74ca9c"/>
<rect x="235" y="101.29" width="1" height="3.65" fill="#39ab6f"/>
<rect x="236" y="33.15" width="1" height="73.56" fill="#a8e4c4"/>
<rect x="236" y="36.60" width="1" height="69.68" fill="#84daac"/>
<rect x="236" y="101.42" width="1" height="5.29" fill="#30a266"/>
<rect x="237" y="32.66" width="1" height="73.58" fill="#a2debe"/>
<rect x="237" y="35.10" width="1" height="70.78" fill="#75cb9d"/>
<rect x="237" y="101.43" width="1" height="4.81" fill="#33a569"/>
<rect x="238" y="33.31" width="1" height="72.88" fill="#a2debe"/>
<rect x="238" y="36.11" width="1" height="69.87" fill="#76cc9e"/>
<rect x="238" y="101.33" width="1" height="4.86" fill="#36a86c"/>
<rect x="239" y="32.89" width="1" height="72.24" fill="#a1ddbd"/>
<rect x="239" y="34.86" width="1" height="69.71" fill="#73c99b"/>
<rect x="239" y="101.75" width="1" height="3.39" fill="#3bad71"/>
<rect x="240" y="33.84" width="1" height="73.65" fill="#9fdbbb"/>
<rect x="240" y="34.87" width="1" height="71.28" fill="#6dc395"/>
<rect x="240" y="100.94" width="1" height="6.54" fill="#2b9d61"/>
<rect x="241" y="34.44" width="1" height="71.60" fill="#a2debe"/>
<rect x="241" y="35.33" width="1" height="70.71" fill="#74ca9c"/>
<rect x="241" y="101.25" width="1" height="4.79" fill="#2b9d61"/>
<rect x="242" y="34.02" width="1" height="72.22" fill="#9fdbbb"/>
<rect x="242" y="35.70" width="1" height="69.49" fill="#6dc395"/>
<rect x="242" y="101.24" width="1" height="5.00" fill="#3cae72"/>
<rect x="243" y="34.03" width="1" height="71.11" fill="#a3dfbf"/>
<rect x="243" y="36.92" width="1" height="67.99" fill="#77cd9f"/>
<rect x="243" y="100.05" width="1" height="5.09" fill="#24965a"/>
<rect x="244" y="33.82" width="1" height="72.25" fill="#9dd9b9"/>
<rect x="244" y="37.15" width="1" height="68.76" fill="#69bf91"/>
<rect x="244" y="100.67" width="1" height="5.40" fill="#3aac70"/>
<rect x="245" y="34.94" width="1" height="70.22" fill="#a3dfbf"/>
<rect x="245" y="35.48" width="1" height="69.42" fill="#78cea0"/>
<rect x="245" y="100.05" width="1" height="5.11" fill="#3aac70"/>
<rect x="246" y="30.73" width="1" height="74.39" fill="#a2debe"/>
<rect x="246" y="33.86" width="1" height="70.95" fill="#74ca9c"/>
<rect x="246" y="100.34" width="1" height="4.78" fill="#39ab6f"/>
<rect x="247" y="31.92" width="1" height="74.34" fill="#9dd9b9"/>
<rect x="247" y="35.01" width="1" height="70.87" fill="#69bf91"/>
<rect x="247" y="100.92" width="1" height="5.34" fill="#26985c"/>
<rect x="248" y="34.37" width="1" height="71.95" fill="#ace8c8"/>
<rect x="248" y="34.87" width="1" height="70.58" fill="#8de3b5"/>
<rect x="248" y="101.08" width="1" height="5.23" fill="#3cae72"/>
<rect x="249" y="32.90" width="1" height="72.51" fill="#9fdbbb"/>
<rect x="249" y="34.87" width="1" height="69.94" fill="#6ec496"/>
<rect x="249" y="100.65" width="1" height="4.76" fill="#26985c"/>
<rect x="250" y="31.79" width="1" height="74.54" fill="#a3dfbf"/>
<rect x="250" y="34.02" width="1" height="71.22" fill="#79cfa1"/>
<rect x="250" y="102.24" width="1" height="4.09" fill="#3fb175"/>
<rect x="251" y="32.96" width="1" height="74.51" fill="#a1ddbd"/>
<rect x="251" y="34.65" width="1" height="71.67" fill="#73c99b"/>
<rect x="251" y="100.07" width="1" height="7.40" fill="#3cae72"/>
<rect x="252" y="33.72" width="1" height="71.56" fill="#9fdbbb"/>
<rect x="252" y="35.38" width="1" height="69.56" fill="#6fc597"/>
<rect x="252" y="101.00" width="1" height="4.27" fill="#34a66a"/>
<rect x="253" y="32.04" width="1" height="74.39" fill="#9edaba"/>
<rect x="253" y="33.07" width="1" height="72.56" fill="#6bc193"/>
<rect x="253" y="100.24" width="1" height="6.19" fill="#3fb175"/>
<rect x="254" y="31.16" width="1" height="75.11" fill="#a1ddbd"/>
<rect x="254" y="33.93" width="1" height="71.86" fill="#72c89a"/>
<rect x="254" y="101.49" width="1" height="4.78" fill="#3aac70"/>
<rect x="255" y="34.48" width="1" height="70.96" fill="#a7e3c3"/>
<rect x="255" y="37.01" width="1" height="68.35" fill="#82d8aa"/>
<rect x="255" y="100.10" width="1" height="5.34" fill="#299b5f"/>
<rect x="256" y="30.47" width="1" height="75.89" fill="#a1ddbd"/>
<rect x="256" y="32.60" width="1" height="72.31" fill="#72c89a"/>
<rect x="256" y="100.67" width="1" height="5.69" fill="#36a86c"/>
<rect x="257" y="31.64" width="1" height="75.42" fill="#a0dcbc"/>
<rect x="257" y="33.72" width="1" height="72.26" fill="#6fc597"/>
<rect x="257" y="100.61" width="1" height="6.44" fill="#27995d"/>
<rect x="258" y="36.17" width="1" height="69.54" fill="#9fdbbb"/>
<rect x="258" y="36.30" width="1" height="68.36" fill="#6dc395"/>
<rect x="258" y="100.37" width="1" height="5.34" fill="#3aac70"/>
<rect x="259" y="33.49" width="1" height="72.61" fill="#9fdbbb"/>
<rect x="259" y="34.39" width="1" height="71.20" fill="#6fc597"/>
<rect x="259" y="101.56" width="1" height="4.54" fill="#3eb074"/>
<rect x="260" y="34.95" width="1" height="72.51" fill="#a1ddbd"/>
<rect x="260" y="36.94" width="1" height="69.22" fill="#72c89a"/>
<rect x="260" y="102.22" width="1" height="5.24" fill="#31a367"/>
<rect x="261" y="35.78" width="1" height="70.41" fill="#a0dcbc"/>
<rect x="261" y="37.14" width="1" height="67.48" fill="#70c698"/>
<rect x="261" y="100.83" width="1" height="5.36" fill="#27995d"/>
<rect x="262" y="33.24" width="1" height="73.12" fill="#aae6c6"/>
<rect x="262" y="33.98" width="1" height="72.37" fill="#8ae0b2"/>
<rect x="262" y="101.93" width="1" height="4.43" fill="#3fb175"/>
<rect x="263" y="33.73" width="1" height="73.78" fill="#9edaba"/>
<rect x="263" y="36.77" width="1" height="69.58" fill="#6bc193"/>
<rect x="263" y="101.99" width="1" height="5.51" fill="#299b5f"/>
<rect x="264" y="34.25" width="1" height="71.69" fill="#9dd9b9"/>
<rect x="264" y="36.96" width="1" height="67.82" fill="#68be90"/>
<rect x="264" y="100.53" width="1" height="5.42" fill="#38aa6e"/>
<rect x="265" y="31.64" width="1" height="74.08" fill="#a5e1c1"/>
<rect x="265" y="34.90" width="1" height="69.67" fill="#7cd2a4"/>
<rect x="265" y="101.68" width="1" height="4.04" fill="#36a86c"/>
<rect x="266" y="32.84" width="1" height="72.44" fill="#a3dfbf"/>
<rect x="266" y="33.12" width="1" height="71.90" fill="#77cd9f"/>
<rect x="266" y="101.54" width="1" height="3.74" fill="#26985c"/>
<rect x="267" y="33.36" width="1" height="71.99" fill="#a2debe"/>
<rect x="267" y="35.37" width="1" height="69.74" fill="#76cc9e"/>
<rect x="267" y="101.22" width="1" height="4.13" fill="#36a86c"/>
<rect x="268" y="32.59" width="1" height="73.82" fill="#a2debe"/>
<rect x="268" y="34.06" width="1" height="70.85" fill="#76cc9e"/>
<rect x="268" y="101.35" width="1" height="5.07" fill="#2c9e62"/>
<rect x="269" y="33.50" width="1" height="71.86" fill="#a1ddbd"/>
<rect x="269" y="36.91" width="1" height="67.92" fill="#72c89a"/>
<rect x="269" y="100.55" width="1" height="4.81" fill="#3bad71"/>
<rect x="270" y="33.12" width="1" height="72.20" fill="#a1ddbd"/>
<rect x="270" y="34.20" width="1" height="70.52" fill="#74ca9c"/>
<rect x="270" y="101.24" width="1" height="4.08" fill="#3daf73"/>
<rect x="271" y="32.17" width="1" height="74.39" fill="#a1ddbd"/>
<rect x="271" y="33.17" width="1" height="72.72" fill="#72c89a"/>
<rect x="271" y="102.31" width="1" height="4.26" fill="#3daf73"/>
<rect x="272" y="34.08" width="1" height="71.59" fill="#9edaba"/>
<rect x="272" y="37.00" width="1" height="67.76" fill="#6bc193"/>
<rect x="272" y="100.28" width="1" height="5.39" fill="#3bad71"/>
<rect x="273" y="30.58" width="1" height="76.53" fill="#abe7c7"/>
<rect x="273" y="33.78" width="1" height="72.44" fill="#8ce2b4"/>
<rect x="273" y="101.45" width="1" height="5.66" fill="#39ab6f"/>
<rect x="274" y="31.72" width="1" height="74.13" fill="#9edaba"/>
<rect x="274" y="32.54" width="1" height="72.57" fill="#6ac092"/>
<rect x="274" y="100.79" width="1" height="5.06" fill="#39ab6f"/>
<rect x="275" y="31.64" width="1" height="74.47" fill="#9edaba"/>
<rect x="275" y="33.25" width="1" height="71.62" fill="#6bc193"/>
<rect x="275" y="102.09" width="1" height="4.01" fill="#3daf73"/>
<rect x="276" y="30.95" width="1" height="74.63" fill="#a6e2c2"/>
<rect x="276" y="32.78" width="1" height="72.50" fill="#80d6a8"/>
<rect x="276" y="101.12" width="1" height="4.46" fill="#38aa6e"/>
<rect x="277" y="33.42" width="1" height="72.23" fill="#9cd8b8"/>
<rect x="277" y="35.39" width="1" height="70.02" fill="#67bd8f"/>
<rect x="277" y="101.31" width="1" height="4.34" fill="#2ea064"/>
<rect x="278" y="34.46" width="1" height="72.58" fill="#9fdbbb"/>
<rect x="278" y="36.68" width="1" height="69.41" fill="#6dc395"/>
<rect x="278" y="100.34" width="1" height="6.70" fill="#25975b"/>
<rect x="279" y="33.58" width="1" height="72.80" fill="#9edaba"/>
<rect x="279" y="37.04" width="1" height="68.43" fill="#6bc193"/>
<rect x="279" y="100.15" width="1" height="6.23" fill="#30a266"/>
<rect x="280" y="29.78" width="1" height="75.20" fill="#a5e1c1"/>
<rect x="280" y="32.47" width="1" height="72.10" fill="#7dd3a5"/>
<rect x="280" y="100.26" width="1" height="4.72" fill="#299b5f"/>
<rect x="281" y="36.61" width="1" height="68.87" fill="#a4e0c0"/>
<rect x="281" y="36.79" width="1" height="67.96" fill="#79cfa1"/>
<rect x="281" y="100.92" width="1" height="4.56" fill="#26985c"/>
<rect x="282" y="32.82" width="1" height="72.17" fill="#a1ddbd"/>
<rect x="282" y="34.21" width="1" height="70.37" fill="#71c799"/>
<rect x="282" y="102.01" width="1" height="2.98" fill="#3fb175"/>
<rect x="283" y="32.48" width="1" height="75.15" fill="#a4e0c0"/>
<rect x="283" y="33.86" width="1" height="72.23" fill="#7ad0a2"/>
<rect x="283" y="101.19" width="1" height="6.44" fill="#25975b"/>
<rect x="284" y="34.70" width="1" height="71.33" fill="#9cd8b8"/>
<rect x="284" y="35.93" width="1" height="68.76" fill="#67bd8f"/>
<rect x="284" y="100.05" width="1" height="5.97" fill="#38aa6e"/>
<rect x="285" y="30.52" width="1" height="76.80" fill="#a4e0c0"/>
<rect x="285" y="33.97" width="1" height="72.14" fill="#79cfa1"/>
<rect x="285" y="102.17" width="1" height="5.14" fill="#2c9e62"/>
<rect x="286" y="31.60" width="1" height="74.59" fill="#9dd9b9"/>
<rect x="286" y="34.25" width="1" height="71.53" fill="#68be90"/>
<rect x="286" y="102.05" width="1" height="4.14" fill="#299b5f"/>
<rect x="287" y="35.51" width="1" height="71.99" fill="#a6e2c2"/>
<rect x="287" y="36.02" width="1" height="70.34" fill="#80d6a8"/>
<rect x="287" y="100.62" width="1" height="6.89" fill="#3eb074"/>
<rect x="288" y="32.84" width="1" height="72.10" fill="#a8e4c4"/>
<rect x="288" y="36.11" width="1" height="68.61" fill="#85dbad"/>
<rect x="288" y="100.14" width="1" height="4.79" fill="#3eb074"/>
<rect x="289" y="30.79" width="1" height="76.27" fill="#a0dcbc"/>
<rect x="289" y="32.99" width="1" height="72.75" fill="#70c698"/>
<rect x="289" y="101.18" width="1" height="5.88" fill="#289a5e"/>
<rect x="290" y="35.90" width="1" height="69.67" fill="#a3dfbf"/>
<rect x="290" y="36.10" width="1" height="69.24" fill="#77cd9f"/>
<rect x="290" y="100.53" width="1" height="5.05" fill="#30a266"/>
<rect x="291" y="35.48" width="1" height="70.54" fill="#a0dcbc"/>
<rect x="291" y="36.43" width="1" height="69.32" fill="#70c698"/>
<rect x="291" y="100.21" width="1" height="5.81" fill="#3daf73"/>
<rect x="292" y="33.21" width="1" height="72.56" fill="#9edaba"/>
<rect x="292" y="36.64" width="1" height="68.06" fill="#6ac092"/>
<rect x="292" y="102.17" width="1" height="3.60" fill="#2c9e62"/>
<rect x="293" y="35.21" width="1" height="70.91" fill="#ace8c8"/>
<rect x="293" y="35.92" width="1" height="68.60" fill="#8fe5b7"/>
<rect x="293" y="101.40" width="1" height="4.72" fill="#2c9e62"/>
<rect x="294" y="32.52" width="1" height="74.88" fill="#9cd8b8"/>
<rect x="294" y="32.72" width="1" height="73.11" fill="#66bc8e"/>
<rect x="294" y="100.49" width="1" height="6.90" fill="#2ea064"/>
<rect x="295" y="36.50" width="1" height="69.19" fill="#9fdbbb"/>
<rect x="295" y="36.51" width="1" height="68.89" fill="#6fc597"/>
<rect x="295" y="100.23" width="1" height="5.46" fill="#2a9c60"/>
<rect x="296" y="33.87" width="1" height="72.21" fill="#a6e2c2"/>
<rect x="296" y="34.35" width="1" height="70.59" fill="#80d6a8"/>
<rect x="296" y="101.86" width="1" height="4.21" fill="#26985c"/>
<rect x="297" y="32.43" width="1" height="74.55" fill="#a2debe"/>
<rect x="297" y="34.16" width="1" height="71.83" fill="#74ca9c"/>
<rect x="297" y="101.63" width="1" height="5.35" fill="#34a66a"/>
<rect x="298" y="35.97" width="1" height="70.80" fill="#9cd8b8"/>
<rect x="298" y="36.20" width="1" height="69.42" fill="#67bd8f"/>
<rect x="298" y="100.48" width="1" height="6.29" fill="#2d9f63"/>
<rect x="299" y="29.97" width="1" height="77.84" fill="#a0dcbc"/>
<rect x="299" y="32.99" width="1" height="73.36" fill="#70c698"/>
<rect x="299" y="101.08" width="1" height="6.73" fill="#2b9d61"/>
<rect x="300" y="33.37" width="1" height="73.30" fill="#aae6c6"/>
<rect x="300" y="36.28" width="1" height="69.80" fill="#88deb0"/>
<rect x="300" y="101.39" width="1" height="5.28" fill="#33a569"/>
<rect x="301" y="33.17" width="1" height="73.17" fill="#a3dfbf"/>
<rect x="301" y="34.98" width="1" height="70.06" fill="#77cd9f"/>
<rect x="301" y="102.01" width="1" height="4.34" fill="#38aa6e"/>
<rect x="302" y="32.67" width="1" height="73.60" fill="#a0dcbc"/>
<rect x="302" y="35.30" width="1" height="69.44" fill="#70c698"/>
<rect x="302" y="102.16" width="1" height="4.11" fill="#33a569"/>
<rect x="303" y="34.45" width="1" height="71.81" fill="#9dd9b9"/>
<rect x="303" y="34.52" width="1" height="71.44" fill="#68be90"/>
<rect x="303" y="99.89" width="1" height="6.36" fill="#3bad71"/>
<rect x="304" y="36.72" width="1" height="69.32" fill="#a1ddbd"/>
<rect x="304" y="37.06" width="1" height="68.96" fill="#72c89a"/>
<rect x="304" y="100.56" width="1" height="5.48" fill="#33a569"/>
<rect x="305" y="33.33" width="1" height="71.78" fill="#9dd9b9"/>
<rect x="305" y="33.69" width="1" height="71.35" fill="#68be90"/>
<rect x="305" y="100.14" width="1" height="4.97" fill="#32a468"/>
<rect x="306" y="35.38" width="1" height="71.69" fill="#ace8c8"/>
<rect x="306" y="35.81" width="1" height="70.32" fill="#8de3b5"/>
<rect x="306" y="101.30" width="1" height="5.77" fill="#34a66a"/>
<rect x="307" y="32.90" width="1" height="72.35" fill="#9fdbbb"/>
<rect x="307" y="33.47" width="1" height="71.15" fill="#6ec496"/>
<rect x="307" y="100.25" width="1" height="5.00" fill="#33a569"/>
<rect x="308" y="31.93" width="1" height="74.20" fill="#9fdbbb"/>
<rect x="308" y="35.23" width="1" height="70.52" fill="#6dc395"/>
<rect x="308" y="100.37" width="1" height="5.76" fill="#3fb175"/>
<rect x="309" y="29.99" width="1" height="74.89" fill="#a0dcbc"/>
<rect x="309" y="33.18" width="1" height="71.61" fill="#70c698"/>
<rect x="309" y="100.27" width="1" height="4.60" fill="#3eb074"/>
<rect x="310" y="34.48" width="1" height="72.06" fill="#9dd9b9"/>
<rect x="310" y="35.96" width="1" height="69.74" fill="#67bd8f"/>
<rect x="310" y="100.73" width="1" height="5.82" fill="#32a468"/>
<rect x="311" y="36.62" width="1" height="69.81" fill="#a1ddbd"/>
<rect x="311" y="37.11" width="1" height="67.82" fill="#73c99b"/>
<rect x="311" y="99.89" width="1" height="6.54" fill="#3daf73"/>
<rect x="312" y="32.66" width="1" height="74.31" fill="#9edaba"/>
<rect x="312" y="32.78" width="1" height="73.10" fill="#6bc193"/>
<rect x="312" y="100.71" width="1" height="6.26" fill="#3eb074"/>
<rect x="313" y="33.22" width="1" height="73.87" fill="#9edaba"/>
<rect x="313" y="34.10" width="1" height="71.47" fill="#6cc294"/>
<rect x="313" y="101.01" width="1" height="6.08" fill="#36a86c"/>
<rect x="314" y="34.53" width="1" height="71.32" fill="#a0dcbc"/>
<rect x="314" y="36.61" width="1" height="68.81" fill="#6fc597"/>
<rect x="314" y="99.92" width="1" height="5.93" fill="#289a5e"/>
<rect x="315" y="36.13" width="1" height="69.95" fill="#a7e3c3"/>
<rect x="315" y="36.59" width="1" height="69.03" fill="#81d7a9"/>
<rect x="315" y="101.58" width="1" height="4.50" fill="#33a569"/>
<rect x="316" y="30.87" width="1" height="74.61" fill="#a2debe"/>
<rect x="316" y="33.00" width="1" height="72.16" fill="#74ca9c"/>
<rect x="316" y="100.89" width="1" height="4.60" fill="#33a569"/>
<rect x="317" y="32.50" width="1" height="73.78" fill="#a0dcbc"/>
<rect x="317" y="34.14" width="1" height="71.79" fill="#70c698"/>
<rect x="317" y="101.54" width="1" height="4.75" fill="#34a66a"/>
<rect x="318" y="35.92" width="1" height="70.91" fill="#a0dcbc"/>
<rect x="318" y="37.15" width="1" height="68.78" fill="#70c698"/>
<rect x="318" y="100.16" width="1" height="6.67" fill="#40b276"/>
<rect x="319" y="33.03" width="1" height="74.62" fill="#a8e4c4"/>
<rect x="319" y="35.73" width="1" height="70.53" fill="#85dbad"/>
<rect x="319" y="101.92" width="1" height="5.73" fill="#2fa165"/>
<rect x="320" y="32.43" width="1" height="75.06" fill="#abe7c7"/>
<rect x="320" y="35.01" width="1" height="70.95" fill="#8be1b3"/>
<rect x="320" y="102.04" width="1" height="5.45" fill="#2d9f63"/>
<rect x="321" y="33.08" width="1" height="73.02" fill="#a0dcbc"/>
<rect x="321" y="35.44" width="1" height="69.34" fill="#70c698"/>
<rect x="321" y="100.77" width="1" height="5.33" fill="#39ab6f"/>
<rect x="322" y="31.74" width="1" height="74.77" fill="#9dd9b9"/>
<rect x="322" y="33.41" width="1" height="71.65" fill="#69bf91"/>
<rect x="322" y="100.35" width="1" height="6.17" fill="#24965a"/>
<rect x="323" y="31.33" width="1" height="74.17" fill="#9fdbbb"/>
<rect x="323" y="33.38" width="1" height="71.20" fill="#6ec496"/>
<rect x="323" y="101.07" width="1" height="4.42" fill="#3cae72"/>
<rect x="324" y="32.84" width="1" height="73.84" fill="#9edaba"/>
<rect x="324" y="34.17" width="1" height="71.35" fill="#6cc294"/>
<rect x="324" y="101.18" width="1" height="5.50" fill="#34a66a"/>
<rect x="325" y="34.16" width="1" height="71.43" fill="#a8e4c4"/>
<rect x="325" y="35.28" width="1" height="69.50" fill="#85dbad"/>
<rect x="325" y="100.34" width="1" height="5.24" fill="#2d9f63"/>
<rect x="326" y="34.47" width="1" height="73.22" fill="#9fdbbb"/>
<rect x="326" y="36.48" width="1" height="69.73" fill="#6cc294"/>
<rect x="326" y="100.86" width="1" height="6.83" fill="#3bad71"/>
<rect x="327" y="31.69" width="1" height="73.00" fill="#9cd8b8"/>
<rect x="327" y="32.41" width="1" height="72.26" fill="#67bd8f"/>
<rect x="327" y="101.25" width="1" height="3.44" fill="#32a468"/>
<rect x="328" y="29.89" width="1" height="75.44" fill="#a0dcbc"/>
<rect x="328" y="32.60" width="1" height="71.91" fill="#70c698"/>
<rect x="328" y="100.97" width="1" height="4.37" fill="#2fa165"/>
<rect x="329" y="33.34" width="1" height="72.35" fill="#a9e5c5"/>
<rect x="329" y="35.42" width="1" height="69.18" fill="#87ddaf"/>
<rect x="329" y="101.43" width="1" height="4.25" fill="#2ea064"/>
<rect x="330" y="33.24" width="1" height="73.04" fill="#a0dcbc"/>
<rect x="330" y="35.20" width="1" height="69.53" fill="#70c698"/>
<rect x="330" y="100.88" width="1" height="5.40" fill="#35a76b"/>
<rect x="331" y="31.02" width="1" height="74.10" fill="#9fdbbb"/>
<rect x="331" y="32.22" width="1" height="72.63" fill="#6cc294"/>
<rect x="331" y="100.99" width="1" height="4.14" fill="#3bad71"/>
<rect x="332" y="34.26" width="1" height="72.14" fill="#a4e0c0"/>
<rect x="332" y="34.64" width="1" height="70.44" fill="#7ad0a2"/>
<rect x="332" y="100.07" width="1" height="6.33" fill="#30a266"/>
<rect x="333" y="35.41" width="1" height="70.32" fill="#9dd9b9"/>
<rect x="333" y="36.43" width="1" height="69.01" fill="#6ac092"/>
<rect x="333" y="101.03" width="1" height="4.70" fill="#35a76b"/>
<rect x="334" y="31.96" width="1" height="75.00" fill="#a2debe"/>
<rect x="334" y="35.44" width="1" height="70.86" fill="#76cc9e"/>
<rect x="334" y="100.72" width="1" height="6.24" fill="#37a96d"/>
<rect x="335" y="36.12" width="1" height="70.23" fill="#9edaba"/>
<rect x="335" y="37.19" width="1" height="68.09" fill="#6ac092"/>
<rect x="335" y="100.21" width="1" height="6.15" fill="#33a569"/>
<rect x="336" y="33.61" width="1" height="71.82" fill="#a8e4c4"/>
<rect x="336" y="35.88" width="1" height="68.63" fill="#84daac"/>
<rect x="336" y="100.98" width="1" height="4.45" fill="#289a5e"/>
<rect x="337" y="33.03" width="1" height="73.87" fill="#a3dfbf"/>
<rect x="337" y="33.41" width="1" height="72.66" fill="#76cc9e"/>
<rect x="337" y="102.06" width="1" height="4.84" fill="#3bad71"/>
<rect x="338" y="36.86" width="1" height="70.07" fill="#a8e4c4"/>
<rect x="338" y="36.90" width="1" height="68.88" fill="#83d9ab"/>
<rect x="338" y="100.38" width="1" height="6.54" fill="#2b9d61"/>
<rect x="339" y="33.55" width="1" height="72.90" fill="#a8e4c4"/>
<rect x="339" y="36.71" width="1" height="69.02" fill="#84daac"/>
<rect x="339" y="100.86" width="1" height="5.59" fill="#3daf73"/>
<rect x="340" y="30.93" width="1" height="74.68" fill="#9cd8b8"/>
<rect x="340" y="34.29" width="1" height="70.93" fill="#67bd8f"/>
<rect x="340" y="101.21" width="1" height="4.40" fill="#3cae72"/>
<rect x="341" y="32.49" width="1" height="74.29" fill="#a4e0c0"/>
<rect x="341" y="35.63" width="1" height="70.18" fill="#79cfa1"/>
<rect x="341" y="100.27" width="1" height="6.51" fill="#3fb175"/>
<rect x="342" y="34.63" width="1" height="71.83" fill="#a3dfbf"/>
<rect x="342" y="35.99" width="1" height="69.97" fill="#78cea0"/>
<rect x="342" y="100.51" width="1" height="5.95" fill="#3aac70"/>
<rect x="343" y="35.38" width="1" height="72.20" fill="#9edaba"/>
<rect x="343" y="35.99" width="1" height="70.04" fill="#6cc294"/>
<rect x="343" y="101.42" width="1" height="6.17" fill="#27995d"/>
<rect x="344" y="33.19" width="1" height="73.27" fill="#a3dfbf"/>
<rect x="344" y="34.54" width="1" height="71.72" fill="#77cd9f"/>
<rect x="344" y="101.30" width="1" height="5.15" fill="#2b9d61"/>
<rect x="345" y="35.26" width="1" height="72.12" fill="#a8e4c4"/>
<rect x="345" y="36.25" width="1" height="70.06" fill="#83d9ab"/>
<rect x="345" y="101.72" width="1" height="5.66" fill="#38aa6e"/>
<rect x="346" y="35.80" width="1" height="71.05" fill="#a3dfbf"/>
<rect x="346" y="36.75" width="1" height="69.40" fill="#77cd9f"/>
<rect x="346" y="100.22" width="1" height="6.63" fill="#289a5e"/>
<rect x="347" y="32.91" width="1" height="72.00" fill="#a4e0c0"/>
<rect x="347" y="35.44" width="1" height="69.14" fill="#79cfa1"/>
<rect x="347" y="101.37" width="1" height="3.55" fill="#2a9c60"/>
<rect x="348" y="34.48" width="1" height="72.85" fill="#a1ddbd"/>
<rect x="348" y="34.94" width="1" height="70.95" fill="#72c89a"/>
<rect x="348" y="100.54" width="1" height="6.79" fill="#2b9d61"/>
<rect x="349" y="33.42" width="1" height="73.55" fill="#a0dcbc"/>
<rect x="349" y="34.16" width="1" height="71.99" fill="#71c799"/>
<rect x="349" y="100.13" width="1" height="6.84" fill="#3aac70"/>
<rect x="350" y="32.98" width="1" height="73.44" fill="#a5e1c1"/>
<rect x="350" y="35.28" width="1" height="70.52" fill="#7ed4a6"/>
<rect x="350" y="100.89" width="1" height="5.53" fill="#3cae72"/>
<rect x="351" y="33.28" width="1" height="72.62" fill="#a0dcbc"/>
<rect x="351" y="35.60" width="1" height="69.73" fill="#70c698"/>
<rect x="351" y="102.04" width="1" height="3.86" fill="#26985c"/>
<polygon points="225.8,106.5 228,104 228,109.5 226.5,111.5" fill="#2a9e5e"/>
<line x1="241.59" y1="16.24" x2="241.59" y2="37.21" stroke="#8fdcb0" stroke-width="0.8"/>
<rect x="415" y="40.44" width="1" height="69.78" fill="#f38b91"/>
<rect x="415" y="41.00" width="1" height="67.93" fill="#ee4547"/>
<rect x="415" y="104.29" width="1" height="5.93" fill="#df2b35"/>
<rect x="416" y="36.04" width="1" height="72.97" fill="#f28a90"/>
<rect x="416" y="37.97" width="1" height="69.48" fill="#ee4446"/>
<rect x="416" y="104.29" width="1" height="4.71" fill="#de2a34"/>
<rect x="417" y="37.10" width="1" height="71.42" fill="#f38b91"/>
<rect x="417" y="38.80" width="1" height="69.08" fill="#ee4749"/>
<rect x="417" y="104.29" width="1" height="4.22" fill="#e12d37"/>
<rect x="418" y="34.96" width="1" height="73.20" fill="#f58d93"/>
<rect x="418" y="35.58" width="1" height="71.94" fill="#ee4a4c"/>
<rect x="418" y="104.29" width="1" height="3.87" fill="#e4303a"/>
<rect x="419" y="33.35" width="1" height="75.68" fill="#f1898f"/>
<rect x="419" y="35.63" width="1" height="72.11" fill="#ee4244"/>
<rect x="419" y="104.29" width="1" height="4.74" fill="#dc2832"/>
<rect x="420" y="33.54" width="1" height="75.73" fill="#f1898f"/>
<rect x="420" y="34.04" width="1" height="74.55" fill="#ee4244"/>
<rect x="420" y="104.29" width="1" height="4.98" fill="#dc2832"/>
<rect x="421" y="30.87" width="1" height="77.69" fill="#f58d93"/>
<rect x="421" y="31.32" width="1" height="76.21" fill="#ee4b4d"/>
<rect x="421" y="104.29" width="1" height="4.27" fill="#e5313b"/>
<rect x="422" y="29.48" width="1" height="79.02" fill="#f68e94"/>
<rect x="422" y="31.19" width="1" height="77.30" fill="#ee4c4e"/>
<rect x="422" y="104.29" width="1" height="4.21" fill="#e6323c"/>
<rect x="423" y="31.64" width="1" height="76.96" fill="#f1898f"/>
<rect x="423" y="31.75" width="1" height="75.76" fill="#ee4345"/>
<rect x="423" y="104.29" width="1" height="4.31" fill="#dd2933"/>
<rect x="424" y="30.40" width="1" height="80.02" fill="#f58d93"/>
<rect x="424" y="32.37" width="1" height="76.39" fill="#ee4b4d"/>
<rect x="424" y="104.29" width="1" height="6.13" fill="#e5313b"/>
<rect x="425" y="30.04" width="1" height="79.17" fill="#f38b91"/>
<rect x="425" y="31.02" width="1" height="76.69" fill="#ee4547"/>
<rect x="425" y="104.29" width="1" height="4.92" fill="#df2b35"/>
<rect x="426" y="29.47" width="1" height="79.13" fill="#f58d93"/>
<rect x="426" y="30.53" width="1" height="76.82" fill="#ee4b4d"/>
<rect x="426" y="104.29" width="1" height="4.32" fill="#e5313b"/>
<rect x="427" y="30.40" width="1" height="79.93" fill="#f48c92"/>
<rect x="427" y="31.53" width="1" height="77.54" fill="#ee4749"/>
<rect x="427" y="104.29" width="1" height="6.04" fill="#e12d37"/>
<rect x="428" y="30.60" width="1" height="77.17" fill="#f58d93"/>
<rect x="428" y="30.92" width="1" height="76.77" fill="#ee4a4c"/>
<rect x="428" y="104.29" width="1" height="3.48" fill="#e4303a"/>
<rect x="429" y="31.46" width="1" height="76.97" fill="#f48c92"/>
<rect x="429" y="32.83" width="1" height="74.45" fill="#ee494b"/>
<rect x="429" y="104.29" width="1" height="4.14" fill="#e32f39"/>
<rect x="430" y="32.56" width="1" height="76.17" fill="#f38b91"/>
<rect x="430" y="33.46" width="1" height="74.92" fill="#ee4648"/>
<rect x="430" y="104.29" width="1" height="4.45" fill="#e02c36"/>
<rect x="431" y="30.17" width="1" height="78.98" fill="#f48c92"/>
<rect x="431" y="31.85" width="1" height="76.86" fill="#ee484a"/>
<rect x="431" y="104.29" width="1" height="4.86" fill="#e22e38"/>
<rect x="432" y="30.45" width="1" height="79.73" fill="#f28a90"/>
<rect x="432" y="31.33" width="1" height="77.26" fill="#ee4446"/>
<rect x="432" y="104.29" width="1" height="5.90" fill="#de2a34"/>
<rect x="433" y="30.95" width="1" height="78.53" fill="#f28a90"/>
<rect x="433" y="32.99" width="1" height="75.12" fill="#ee4446"/>
<rect x="433" y="104.29" width="1" height="5.19" fill="#de2a34"/>
<rect x="434" y="31.22" width="1" height="77.95" fill="#f28a90"/>
<rect x="434" y="32.38" width="1" height="75.30" fill="#ee4345"/>
<rect x="434" y="104.29" width="1" height="4.89" fill="#dd2933"/>
<rect x="435" y="32.56" width="1" height="77.00" fill="#f28a90"/>
<rect x="435" y="33.08" width="1" height="75.98" fill="#ee4446"/>
<rect x="435" y="104.29" width="1" height="5.28" fill="#de2a34"/>
<rect x="436" y="32.65" width="1" height="76.74" fill="#f38b91"/>
<rect x="436" y="32.93" width="1" height="75.61" fill="#ee4648"/>
<rect x="436" y="104.29" width="1" height="5.10" fill="#e02c36"/>
<rect x="437" y="33.97" width="1" height="74.62" fill="#f28a90"/>
<rect x="437" y="33.99" width="1" height="73.24" fill="#ee4345"/>
<rect x="437" y="104.29" width="1" height="4.30" fill="#dd2933"/>
<rect x="438" y="30.30" width="1" height="79.55" fill="#f48c92"/>
<rect x="438" y="31.71" width="1" height="77.26" fill="#ee4749"/>
<rect x="438" y="104.29" width="1" height="5.56" fill="#e12d37"/>
<rect x="439" y="32.91" width="1" height="75.63" fill="#f58d93"/>
<rect x="439" y="32.93" width="1" height="74.45" fill="#ee4a4c"/>
<rect x="439" y="104.29" width="1" height="4.25" fill="#e4303a"/>
<rect x="440" y="32.10" width="1" height="76.85" fill="#f1898f"/>
<rect x="440" y="32.72" width="1" height="75.97" fill="#ee4244"/>
<rect x="440" y="104.29" width="1" height="4.66" fill="#dc2832"/>
<rect x="441" y="31.58" width="1" height="78.39" fill="#f68e94"/>
<rect x="441" y="32.32" width="1" height="76.50" fill="#ee4c4e"/>
<rect x="441" y="104.29" width="1" height="5.68" fill="#e6323c"/>
<rect x="442" y="32.19" width="1" height="76.70" fill="#fb9399"/>
<rect x="442" y="34.15" width="1" height="73.40" fill="#ee5658"/>
<rect x="442" y="104.29" width="1" height="4.60" fill="#f03c46"/>
<rect x="443" y="31.72" width="1" height="77.73" fill="#f38b91"/>
<rect x="443" y="32.52" width="1" height="75.94" fill="#ee4648"/>
<rect x="443" y="104.29" width="1" height="5.16" fill="#e02c36"/>
<rect x="444" y="34.03" width="1" height="75.17" fill="#f68e94"/>
<rect x="444" y="34.13" width="1" height="73.94" fill="#ee4c4e"/>
<rect x="444" y="104.29" width="1" height="4.91" fill="#e6323c"/>
<rect x="445" y="30.11" width="1" height="79.00" fill="#f28a90"/>
<rect x="445" y="32.47" width="1" height="75.74" fill="#ee4446"/>
<rect x="445" y="104.29" width="1" height="4.82" fill="#de2a34"/>
<rect x="446" y="33.20" width="1" height="74.93" fill="#f48c92"/>
<rect x="446" y="33.40" width="1" height="74.43" fill="#ee4749"/>
<rect x="446" y="104.29" width="1" height="3.84" fill="#e12d37"/>
<rect x="447" y="34.66" width="1" height="74.00" fill="#fd959b"/>
<rect x="447" y="34.76" width="1" height="73.55" fill="#ee5b5d"/>
<rect x="447" y="104.29" width="1" height="4.37" fill="#f5414b"/>
<rect x="448" y="30.75" width="1" height="77.66" fill="#f38b91"/>
<rect x="448" y="32.89" width="1" height="74.75" fill="#ee4547"/>
<rect x="448" y="104.29" width="1" height="4.12" fill="#df2b35"/>
<rect x="449" y="32.77" width="1" height="76.54" fill="#f58d93"/>
<rect x="449" y="33.82" width="1" height="74.70" fill="#ee4a4c"/>
<rect x="449" y="104.29" width="1" height="5.02" fill="#e4303a"/>
<rect x="450" y="32.47" width="1" height="76.92" fill="#f48c92"/>
<rect x="450" y="32.88" width="1" height="75.72" fill="#ee494b"/>
<rect x="450" y="104.29" width="1" height="5.11" fill="#e32f39"/>
<rect x="451" y="34.60" width="1" height="74.77" fill="#f78f95"/>
<rect x="451" y="34.81" width="1" height="73.73" fill="#ee4e50"/>
<rect x="451" y="104.29" width="1" height="5.09" fill="#e8343e"/>
<rect x="452" y="30.71" width="1" height="77.70" fill="#fe969c"/>
<rect x="452" y="33.15" width="1" height="74.15" fill="#ee5c5e"/>
<rect x="452" y="104.29" width="1" height="4.12" fill="#f6424c"/>
<rect x="453" y="32.20" width="1" height="77.43" fill="#f78f95"/>
<rect x="453" y="33.72" width="1" height="74.87" fill="#ee4d4f"/>
<rect x="453" y="104.29" width="1" height="5.34" fill="#e7333d"/>
<rect x="454" y="33.13" width="1" height="76.97" fill="#f99197"/>
<rect x="454" y="33.88" width="1" height="74.63" fill="#ee5254"/>
<rect x="454" y="104.29" width="1" height="5.81" fill="#ec3842"/>
<rect x="455" y="32.76" width="1" height="77.44" fill="#f38b91"/>
<rect x="455" y="33.88" width="1" height="75.13" fill="#ee4648"/>
<rect x="455" y="104.29" width="1" height="5.91" fill="#e02c36"/>
<rect x="456" y="33.32" width="1" height="75.47" fill="#fa9298"/>
<rect x="456" y="34.65" width="1" height="73.43" fill="#ee5355"/>
<rect x="456" y="104.29" width="1" height="4.50" fill="#ed3943"/>
<rect x="457" y="32.12" width="1" height="78.39" fill="#fb9399"/>
<rect x="457" y="33.49" width="1" height="75.47" fill="#ee5557"/>
<rect x="457" y="104.29" width="1" height="6.22" fill="#ef3b45"/>
<rect x="458" y="33.88" width="1" height="75.34" fill="#f28a90"/>
<rect x="458" y="34.51" width="1" height="73.71" fill="#ee4547"/>
<rect x="458" y="104.29" width="1" height="4.93" fill="#df2b35"/>
<rect x="459" y="34.40" width="1" height="73.77" fill="#fb9399"/>
<rect x="459" y="35.68" width="1" height="72.35" fill="#ee5759"/>
<rect x="459" y="104.29" width="1" height="3.88" fill="#f13d47"/>
<rect x="460" y="32.75" width="1" height="76.63" fill="#fe969c"/>
<rect x="460" y="34.91" width="1" height="73.19" fill="#ee5b5d"/>
<rect x="460" y="104.29" width="1" height="5.10" fill="#f5414b"/>
<rect x="461" y="31.75" width="1" height="78.72" fill="#fb9399"/>
<rect x="461" y="33.56" width="1" height="75.42" fill="#ee5759"/>
<rect x="461" y="104.29" width="1" height="6.18" fill="#f13d47"/>
<rect x="462" y="32.31" width="1" height="75.60" fill="#fe969c"/>
<rect x="462" y="33.72" width="1" height="73.94" fill="#ee5b5d"/>
<rect x="462" y="104.29" width="1" height="3.62" fill="#f5414b"/>
<rect x="463" y="34.75" width="1" height="75.46" fill="#f28a90"/>
<rect x="463" y="35.68" width="1" height="73.46" fill="#ee4547"/>
<rect x="463" y="104.29" width="1" height="5.93" fill="#df2b35"/>
<rect x="464" y="33.47" width="1" height="75.08" fill="#f68e94"/>
<rect x="464" y="34.54" width="1" height="72.90" fill="#ee4c4e"/>
<rect x="464" y="104.29" width="1" height="4.27" fill="#e6323c"/>
<rect x="465" y="31.90" width="1" height="78.30" fill="#f38b91"/>
<rect x="465" y="34.07" width="1" height="74.78" fill="#ee4648"/>
<rect x="465" y="104.29" width="1" height="5.90" fill="#e02c36"/>
<rect x="466" y="32.71" width="1" height="76.90" fill="#f58d93"/>
<rect x="466" y="34.77" width="1" height="74.17" fill="#ee4b4d"/>
<rect x="466" y="104.29" width="1" height="5.32" fill="#e5313b"/>
<rect x="467" y="34.64" width="1" height="73.54" fill="#f48c92"/>
<rect x="467" y="34.75" width="1" height="73.25" fill="#ee494b"/>
<rect x="467" y="104.29" width="1" height="3.89" fill="#e32f39"/>
<rect x="468" y="34.10" width="1" height="74.21" fill="#f28a90"/>
<rect x="468" y="36.42" width="1" height="71.44" fill="#ee4446"/>
<rect x="468" y="104.29" width="1" height="4.03" fill="#de2a34"/>
<rect x="469" y="33.15" width="1" height="75.84" fill="#f28a90"/>
<rect x="469" y="34.61" width="1" height="74.35" fill="#ee4345"/>
<rect x="469" y="104.29" width="1" height="4.71" fill="#dd2933"/>
<rect x="470" y="35.00" width="1" height="74.84" fill="#fb9399"/>
<rect x="470" y="36.39" width="1" height="72.22" fill="#ee5759"/>
<rect x="470" y="104.29" width="1" height="5.56" fill="#f13d47"/>
<rect x="471" y="33.33" width="1" height="75.96" fill="#ff979d"/>
<rect x="471" y="34.67" width="1" height="73.16" fill="#ee5d5f"/>
<rect x="471" y="104.29" width="1" height="5.00" fill="#f7434d"/>
<rect x="472" y="35.77" width="1" height="74.00" fill="#fe969c"/>
<rect x="472" y="36.14" width="1" height="72.05" fill="#ee5c5e"/>
<rect x="472" y="104.29" width="1" height="5.48" fill="#f6424c"/>
<rect x="473" y="34.60" width="1" height="73.96" fill="#fc949a"/>
<rect x="473" y="36.64" width="1" height="71.21" fill="#ee585a"/>
<rect x="473" y="104.29" width="1" height="4.27" fill="#f23e48"/>
<rect x="474" y="34.01" width="1" height="74.56" fill="#f1898f"/>
<rect x="474" y="35.00" width="1" height="72.47" fill="#ee4345"/>
<rect x="474" y="104.29" width="1" height="4.28" fill="#dd2933"/>
<rect x="475" y="34.48" width="1" height="73.62" fill="#f28a90"/>
<rect x="475" y="36.72" width="1" height="71.31" fill="#ee4446"/>
<rect x="475" y="104.29" width="1" height="3.82" fill="#de2a34"/>
<rect x="476" y="34.70" width="1" height="74.36" fill="#f1898f"/>
<rect x="476" y="36.14" width="1" height="72.28" fill="#ee4244"/>
<rect x="476" y="104.29" width="1" height="4.77" fill="#dc2832"/>
<rect x="477" y="36.52" width="1" height="73.53" fill="#f99197"/>
<rect x="477" y="36.57" width="1" height="71.71" fill="#ee5355"/>
<rect x="477" y="104.29" width="1" height="5.77" fill="#ed3943"/>
<rect x="478" y="35.09" width="1" height="74.45" fill="#f38b91"/>
<rect x="478" y="35.78" width="1" height="72.87" fill="#ee4547"/>
<rect x="478" y="104.29" width="1" height="5.26" fill="#df2b35"/>
<rect x="479" y="33.84" width="1" height="73.46" fill="#f48c92"/>
<rect x="479" y="36.23" width="1" height="71.01" fill="#ee494b"/>
<rect x="479" y="104.29" width="1" height="3.01" fill="#e32f39"/>
<rect x="480" y="33.48" width="1" height="75.60" fill="#f38b91"/>
<rect x="480" y="35.41" width="1" height="72.53" fill="#ee4648"/>
<rect x="480" y="104.29" width="1" height="4.79" fill="#e02c36"/>
<rect x="481" y="33.51" width="1" height="75.05" fill="#f38b91"/>
<rect x="481" y="35.70" width="1" height="71.65" fill="#ee4648"/>
<rect x="481" y="104.29" width="1" height="4.28" fill="#e02c36"/>
<rect x="482" y="34.65" width="1" height="73.91" fill="#f48c92"/>
<rect x="482" y="35.92" width="1" height="72.01" fill="#ee494b"/>
<rect x="482" y="104.29" width="1" height="4.28" fill="#e32f39"/>
<rect x="483" y="36.93" width="1" height="73.39" fill="#f48c92"/>
<rect x="483" y="37.78" width="1" height="70.77" fill="#ee484a"/>
<rect x="483" y="104.29" width="1" height="6.04" fill="#e22e38"/>
<rect x="484" y="36.79" width="1" height="71.95" fill="#f1898f"/>
<rect x="484" y="37.38" width="1" height="71.11" fill="#ee4244"/>
<rect x="484" y="104.29" width="1" height="4.45" fill="#dc2832"/>
<rect x="485" y="35.80" width="1" height="72.81" fill="#fa9298"/>
<rect x="485" y="36.92" width="1" height="71.15" fill="#ee5456"/>
<rect x="485" y="104.29" width="1" height="4.32" fill="#ee3a44"/>
<rect x="486" y="36.62" width="1" height="72.13" fill="#f78f95"/>
<rect x="486" y="37.39" width="1" height="70.36" fill="#ee4d4f"/>
<rect x="486" y="104.29" width="1" height="4.46" fill="#e7333d"/>
<rect x="487" y="34.40" width="1" height="74.94" fill="#f48c92"/>
<rect x="487" y="35.86" width="1" height="73.16" fill="#ee494b"/>
<rect x="487" y="104.29" width="1" height="5.06" fill="#e32f39"/>
<rect x="488" y="35.48" width="1" height="74.43" fill="#f1898f"/>
<rect x="488" y="37.41" width="1" height="70.93" fill="#ee4345"/>
<rect x="488" y="104.29" width="1" height="5.62" fill="#dd2933"/>
<rect x="489" y="35.39" width="1" height="73.33" fill="#f28a90"/>
<rect x="489" y="36.08" width="1" height="72.60" fill="#ee4446"/>
<rect x="489" y="104.29" width="1" height="4.43" fill="#de2a34"/>
<rect x="490" y="36.12" width="1" height="72.63" fill="#f58d93"/>
<rect x="490" y="36.67" width="1" height="71.73" fill="#ee494b"/>
<rect x="490" y="104.29" width="1" height="4.47" fill="#e32f39"/>
<rect x="491" y="36.40" width="1" height="73.07" fill="#fd959b"/>
<rect x="491" y="36.90" width="1" height="70.85" fill="#ee595b"/>
<rect x="491" y="104.29" width="1" height="5.19" fill="#f33f49"/>
<rect x="492" y="34.37" width="1" height="74.39" fill="#f28a90"/>
<rect x="492" y="36.56" width="1" height="71.95" fill="#ee4446"/>
<rect x="492" y="104.29" width="1" height="4.47" fill="#de2a34"/>
<rect x="493" y="34.87" width="1" height="72.89" fill="#f38b91"/>
<rect x="493" y="36.47" width="1" height="70.91" fill="#ee4648"/>
<rect x="493" y="104.29" width="1" height="3.47" fill="#e02c36"/>
<rect x="494" y="36.13" width="1" height="72.33" fill="#f1898f"/>
<rect x="494" y="37.14" width="1" height="70.71" fill="#ee4345"/>
<rect x="494" y="104.29" width="1" height="4.17" fill="#dd2933"/>
<rect x="495" y="37.23" width="1" height="72.18" fill="#f58d93"/>
<rect x="495" y="38.79" width="1" height="69.73" fill="#ee494b"/>
<rect x="495" y="104.29" width="1" height="5.13" fill="#e32f39"/>
<rect x="496" y="37.75" width="1" height="70.63" fill="#ff979d"/>
<rect x="496" y="37.79" width="1" height="69.58" fill="#ee5e60"/>
<rect x="496" y="104.29" width="1" height="4.10" fill="#f8444e"/>
<rect x="497" y="35.66" width="1" height="73.04" fill="#fa9298"/>
<rect x="497" y="37.48" width="1" height="71.06" fill="#ee5456"/>
<rect x="497" y="104.29" width="1" height="4.41" fill="#ee3a44"/>
<rect x="498" y="36.93" width="1" height="71.42" fill="#f48c92"/>
<rect x="498" y="37.16" width="1" height="70.43" fill="#ee484a"/>
<rect x="498" y="104.29" width="1" height="4.06" fill="#e22e38"/>
<rect x="499" y="36.15" width="1" height="72.45" fill="#f58d93"/>
<rect x="499" y="37.79" width="1" height="70.21" fill="#ee4b4d"/>
<rect x="499" y="104.29" width="1" height="4.31" fill="#e5313b"/>
<rect x="500" y="35.56" width="1" height="72.66" fill="#f68e94"/>
<rect x="500" y="37.47" width="1" height="70.19" fill="#ee4b4d"/>
<rect x="500" y="104.29" width="1" height="3.93" fill="#e5313b"/>
<rect x="501" y="37.53" width="1" height="72.32" fill="#fa9298"/>
<rect x="501" y="38.22" width="1" height="69.93" fill="#ee5456"/>
<rect x="501" y="104.29" width="1" height="5.56" fill="#ee3a44"/>
<rect x="502" y="36.61" width="1" height="71.71" fill="#f78f95"/>
<rect x="502" y="38.24" width="1" height="69.42" fill="#ee4e50"/>
<rect x="502" y="104.29" width="1" height="4.03" fill="#e8343e"/>
<rect x="503" y="37.37" width="1" height="72.00" fill="#f1898f"/>
<rect x="503" y="37.59" width="1" height="71.53" fill="#ee4345"/>
<rect x="503" y="104.29" width="1" height="5.08" fill="#dd2933"/>
<rect x="504" y="37.74" width="1" height="70.25" fill="#fa9298"/>
<rect x="504" y="38.20" width="1" height="69.14" fill="#ee5456"/>
<rect x="504" y="104.29" width="1" height="3.71" fill="#ee3a44"/>
<rect x="505" y="35.50" width="1" height="73.41" fill="#f68e94"/>
<rect x="505" y="37.81" width="1" height="71.06" fill="#ee4b4d"/>
<rect x="505" y="104.29" width="1" height="4.63" fill="#e5313b"/>
<rect x="506" y="36.00" width="1" height="72.55" fill="#f68e94"/>
<rect x="506" y="37.25" width="1" height="70.68" fill="#ee4c4e"/>
<rect x="506" y="104.29" width="1" height="4.27" fill="#e6323c"/>
<rect x="507" y="36.79" width="1" height="73.50" fill="#f1898f"/>
<rect x="507" y="39.05" width="1" height="69.92" fill="#ee4345"/>
<rect x="507" y="104.29" width="1" height="6.00" fill="#dd2933"/>
<rect x="508" y="36.77" width="1" height="73.31" fill="#f38b91"/>
<rect x="508" y="38.93" width="1" height="70.13" fill="#ee4749"/>
<rect x="508" y="104.29" width="1" height="5.79" fill="#e12d37"/>
<rect x="509" y="36.02" width="1" height="73.17" fill="#f38b91"/>
<rect x="509" y="37.59" width="1" height="71.15" fill="#ee4547"/>
<rect x="509" y="104.29" width="1" height="4.91" fill="#df2b35"/>
<rect x="510" y="39.03" width="1" height="69.82" fill="#f38b91"/>
<rect x="510" y="39.53" width="1" height="68.16" fill="#ee4648"/>
<rect x="510" y="104.29" width="1" height="4.56" fill="#e02c36"/>
<rect x="511" y="38.23" width="1" height="72.20" fill="#f68e94"/>
<rect x="511" y="39.65" width="1" height="69.22" fill="#ee4c4e"/>
<rect x="511" y="104.29" width="1" height="6.14" fill="#e6323c"/>
<rect x="512" y="36.28" width="1" height="72.94" fill="#f48c92"/>
<rect x="512" y="38.34" width="1" height="70.29" fill="#ee484a"/>
<rect x="512" y="104.29" width="1" height="4.93" fill="#e22e38"/>
<rect x="513" y="38.25" width="1" height="70.57" fill="#f48c92"/>
<rect x="513" y="39.96" width="1" height="68.05" fill="#ee494b"/>
<rect x="513" y="104.29" width="1" height="4.54" fill="#e32f39"/>
<rect x="514" y="37.71" width="1" height="72.17" fill="#fe969c"/>
<rect x="514" y="39.92" width="1" height="68.56" fill="#ee5c5e"/>
<rect x="514" y="104.29" width="1" height="5.59" fill="#f6424c"/>
<rect x="515" y="35.80" width="1" height="72.84" fill="#f28a90"/>
<rect x="515" y="38.29" width="1" height="70.30" fill="#ee4345"/>
<rect x="515" y="104.29" width="1" height="4.35" fill="#dd2933"/>
<rect x="516" y="38.32" width="1" height="71.88" fill="#fa9298"/>
<rect x="516" y="40.60" width="1" height="68.28" fill="#ee5355"/>
<rect x="516" y="104.29" width="1" height="5.92" fill="#ed3943"/>
<rect x="517" y="38.70" width="1" height="71.47" fill="#f58d93"/>
<rect x="517" y="38.93" width="1" height="69.59" fill="#ee4b4d"/>
<rect x="517" y="104.29" width="1" height="5.88" fill="#e5313b"/>
<rect x="518" y="38.15" width="1" height="71.99" fill="#fd959b"/>
<rect x="518" y="38.23" width="1" height="70.48" fill="#ee5a5c"/>
<rect x="518" y="104.29" width="1" height="5.86" fill="#f4404a"/>
<rect x="519" y="38.98" width="1" height="69.55" fill="#f1898f"/>
<rect x="519" y="39.55" width="1" height="68.78" fill="#ee4244"/>
<rect x="519" y="104.29" width="1" height="4.24" fill="#dc2832"/>
<rect x="520" y="37.93" width="1" height="71.89" fill="#f28a90"/>
<rect x="520" y="40.13" width="1" height="68.81" fill="#ee4446"/>
<rect x="520" y="104.29" width="1" height="5.53" fill="#de2a34"/>
<rect x="521" y="38.85" width="1" height="71.36" fill="#fc949a"/>
<rect x="521" y="40.57" width="1" height="68.32" fill="#ee585a"/>
<rect x="521" y="104.29" width="1" height="5.93" fill="#f23e48"/>
<rect x="522" y="38.95" width="1" height="69.06" fill="#f28a90"/>
<rect x="522" y="40.19" width="1" height="67.19" fill="#ee4547"/>
<rect x="522" y="104.29" width="1" height="3.72" fill="#df2b35"/>
<rect x="523" y="37.07" width="1" height="71.90" fill="#fb9399"/>
<rect x="523" y="38.89" width="1" height="69.75" fill="#ee5557"/>
<rect x="523" y="104.29" width="1" height="4.68" fill="#ef3b45"/>
<rect x="524" y="39.89" width="1" height="69.49" fill="#fb9399"/>
<rect x="524" y="41.17" width="1" height="67.21" fill="#ee5658"/>
<rect x="524" y="104.29" width="1" height="5.09" fill="#f03c46"/>
<rect x="525" y="37.93" width="1" height="71.17" fill="#f58d93"/>
<rect x="525" y="39.57" width="1" height="68.55" fill="#ee4a4c"/>
<rect x="525" y="104.29" width="1" height="4.81" fill="#e4303a"/>
<rect x="526" y="37.37" width="1" height="71.60" fill="#f48c92"/>
<rect x="526" y="39.16" width="1" height="69.23" fill="#ee4749"/>
<rect x="526" y="104.29" width="1" height="4.68" fill="#e12d37"/>
<rect x="527" y="39.55" width="1" height="69.08" fill="#ff979d"/>
<rect x="527" y="40.51" width="1" height="67.86" fill="#ee5e60"/>
<rect x="527" y="104.29" width="1" height="4.35" fill="#f8444e"/>
<rect x="528" y="37.70" width="1" height="72.07" fill="#f38b91"/>
<rect x="528" y="40.02" width="1" height="68.66" fill="#ee4749"/>
<rect x="528" y="104.29" width="1" height="5.49" fill="#e12d37"/>
<rect x="529" y="40.88" width="1" height="68.06" fill="#fe969c"/>
<rect x="529" y="41.17" width="1" height="66.36" fill="#ee5d5f"/>
<rect x="529" y="104.29" width="1" height="4.65" fill="#f7434d"/>
<rect x="530" y="39.15" width="1" height="69.75" fill="#f38b91"/>
<rect x="530" y="39.96" width="1" height="67.96" fill="#ee4648"/>
<rect x="530" y="104.29" width="1" height="4.61" fill="#e02c36"/>
<rect x="531" y="39.98" width="1" height="68.44" fill="#f58d93"/>
<rect x="531" y="41.85" width="1" height="65.66" fill="#ee494b"/>
<rect x="531" y="104.29" width="1" height="4.14" fill="#e32f39"/>
<rect x="532" y="39.75" width="1" height="68.66" fill="#f58d93"/>
<rect x="532" y="41.32" width="1" height="66.40" fill="#ee4b4d"/>
<rect x="532" y="104.29" width="1" height="4.12" fill="#e5313b"/>
<rect x="533" y="39.11" width="1" height="69.32" fill="#f58d93"/>
<rect x="533" y="40.64" width="1" height="67.21" fill="#ee4a4c"/>
<rect x="533" y="104.29" width="1" height="4.15" fill="#e4303a"/>
<rect x="534" y="39.98" width="1" height="70.31" fill="#f48c92"/>
<rect x="534" y="41.51" width="1" height="67.15" fill="#ee484a"/>
<rect x="534" y="104.29" width="1" height="6.01" fill="#e22e38"/>
<rect x="535" y="39.62" width="1" height="69.38" fill="#f78f95"/>
<rect x="535" y="40.82" width="1" height="67.93" fill="#ee4d4f"/>
<rect x="535" y="104.29" width="1" height="4.71" fill="#e7333d"/>
<rect x="536" y="39.57" width="1" height="68.44" fill="#f28a90"/>
<rect x="536" y="40.89" width="1" height="66.70" fill="#ee4446"/>
<rect x="536" y="104.29" width="1" height="3.73" fill="#de2a34"/>
<rect x="537" y="39.54" width="1" height="69.63" fill="#fe969c"/>
<rect x="537" y="41.14" width="1" height="66.42" fill="#ee5c5e"/>
<rect x="537" y="104.29" width="1" height="4.88" fill="#f6424c"/>
<rect x="538" y="39.35" width="1" height="68.45" fill="#f28a90"/>
<rect x="538" y="41.43" width="1" height="66.15" fill="#ee4446"/>
<rect x="538" y="104.29" width="1" height="3.51" fill="#de2a34"/>
<polygon points="413.6,103 415.5,102 415.5,110.5 413.6,111" fill="#e02a3a"/>
<line x1="540.50" y1="85.38" x2="540.50" y2="103.31" stroke="#f49aa0" stroke-width="0.8"/>
<rect x="538.40" y="98.42" width="2.20" height="6.52" fill="#e82838"/>
</g>
<line x1="28.60" y1="211.70" x2="163.50" y2="211.70" stroke="#d0d0d0" stroke-width="0.8"/>
<rect x="31.90" y="133.40" width="127.30" height="77.40" fill="#a3a3a3"/>
<rect x="32" y="133.40" width="1" height="77.40" fill="#a7a7a7"/>
<rect x="33" y="133.40" width="1" height="77.40" fill="#a6a6a6"/>
<rect x="34" y="133.40" width="1" height="77.40" fill="#a1a1a1"/>
<rect x="35" y="133.40" width="1" height="77.40" fill="#a4a4a4"/>
<rect x="36" y="133.40" width="1" height="77.40" fill="#a1a1a1"/>
<rect x="37" y="133.40" width="1" height="77.40" fill="#9d9d9d"/>
<rect x="38" y="133.40" width="1" height="77.40" fill="#a3a3a3"/>
<rect x="39" y="133.40" width="1" height="77.40" fill="#a0a0a0"/>
<rect x="40" y="133.40" width="1" height="77.40" fill="#9f9f9f"/>
<rect x="41" y="133.40" width="1" height="77.40" fill="#a2a2a2"/>
<rect x="42" y="133.40" width="1" height="77.40" fill="#a2a2a2"/>
<rect x="43" y="133.40" width="1" height="77.40" fill="#a4a4a4"/>
<rect x="44" y="133.40" width="1" height="77.40" fill="#a7a7a7"/>
<rect x="45" y="133.40" width="1" height="77.40" fill="#a4a4a4"/>
<rect x="46" y="133.40" width="1" height="77.40" fill="#a1a1a1"/>
<rect x="47" y="133.40" width="1" height="77.40" fill="#b4b4b4"/>
<rect x="48" y="133.40" width="1" height="77.40" fill="#9b9b9b"/>
<rect x="49" y="133.40" width="1" height="77.40" fill="#9a9a9a"/>
<rect x="50" y="133.40" width="1" height="77.40" fill="#a5a5a5"/>
<rect x="51" y="133.40" width="1" height="77.40" fill="#a8a8a8"/>
<rect x="52" y="133.40" width="1" height="77.40" fill="#9e9e9e"/>
<rect x="53" y="133.40" width="1" height="77.40" fill="#a5a5a5"/>
<rect x="54" y="133.40" width="1" height="77.40" fill="#9c9c9c"/>
<rect x="55" y="133.40" width="1" height="77.40" fill="#a8a8a8"/>
<rect x="56" y="133.40" width="1" height="77.40" fill="#9d9d9d"/>
<rect x="57" y="133.40" width="1" height="77.40" fill="#a8a8a8"/>
<rect x="58" y="133.40" width="1" height="77.40" fill="#acacac"/>
<rect x="59" y="133.40" width="1" height="77.40" fill="#a1a1a1"/>
<rect x="60" y="133.40" width="1" height="77.40" fill="#a2a2a2"/>
<rect x="61" y="133.40" width="1" height="77.40" fill="#a5a5a5"/>
<rect x="62" y="133.40" width="1" height="77.40" fill="#9c9c9c"/>
<rect x="63" y="133.40" width="1" height="77.40" fill="#a2a2a2"/>
<rect x="64" y="133.40" width="1" height="77.40" fill="#ababab"/>
<rect x="65" y="133.40" width="1" height="77.40" fill="#a4a4a4"/>
<rect x="66" y="133.40" width="1" height="77.40" fill="#a6a6a6"/>
<rect x="67" y="133.40" width="1" height="77.40" fill="#9e9e9e"/>
<rect x="68" y="133.40" width="1" height="77.40" fill="#9d9d9d"/>
<rect x="69" y="133.40" width="1" height="77.40" fill="#a6a6a6"/>
<rect x="70" y="133.40" width="1" height="77.40" fill="#9e9e9e"/>
<rect x="71" y="133.40" width="1" height="77.40" fill="#a7a7a7"/>
<rect x="72" y="133.40" width="1" height="77.40" fill="#a0a0a0"/>
<rect x="73" y="133.40" width="1" height="77.40" fill="#9c9c9c"/>
<rect x="74" y="133.40" width="1" height="77.40" fill="#b3b3b3"/>
<rect x="75" y="133.40" width="1" height="77.40" fill="#a6a6a6"/>
<rect x="76" y="133.40" width="1" height="77.40" fill="#a5a5a5"/>
<rect x="77" y="133.40" width="1" height="77.40" fill="#a5a5a5"/>
<rect x="78" y="133.40" width="1" height="77.40" fill="#acacac"/>
<rect x="79" y="133.40" width="1" height="77.40" fill="#a6a6a6"/>
<rect x="80" y="133.40" width="1" height="77.40" fill="#acacac"/>
<rect x="81" y="133.40" width="1" height="77.40" fill="#a6a6a6"/>
<rect x="82" y="133.40" width="1" height="77.40" fill="#aeaeae"/>
<rect x="83" y="133.40" width="1" height="77.40" fill="#b0b0b0"/>
<rect x="84" y="133.40" width="1" height="77.40" fill="#acacac"/>
<rect x="85" y="133.40" width="1" height="77.40" fill="#a9a9a9"/>
<rect x="86" y="133.40" width="1" height="77.40" fill="#a2a2a2"/>
<rect x="87" y="133.40" width="1" height="77.40" fill="#a8a8a8"/>
<rect x="88" y="133.40" width="1" height="77.40" fill="#a8a8a8"/>
<rect x="89" y="133.40" width="1" height="77.40" fill="#9d9d9d"/>
<rect x="90" y="133.40" width="1" height="77.40" fill="#a8a8a8"/>
<rect x="91" y="133.40" width="1" height="77.40" fill="#a5a5a5"/>
<rect x="92" y="133.40" width="1" height="77.40" fill="#a6a6a6"/>
<rect x="93" y="133.40" width="1" height="77.40" fill="#acacac"/>
<rect x="94" y="133.40" width="1" height="77.40" fill="#9d9d9d"/>
<rect x="95" y="133.40" width="1" height="77.40" fill="#a2a2a2"/>
<rect x="96" y="133.40" width="1" height="77.40" fill="#9e9e9e"/>
<rect x="97" y="133.40" width="1" height="77.40" fill="#a0a0a0"/>
<rect x="98" y="133.40" width="1" height="77.40" fill="#b7b7b7"/>
<rect x="99" y="133.40" width="1" height="77.40" fill="#9f9f9f"/>
<rect x="100" y="133.40" width="1" height="77.40" fill="#9d9d9d"/>
<rect x="101" y="133.40" width="1" height="77.40" fill="#a2a2a2"/>
<rect x="102" y="133.40" width="1" height="77.40" fill="#a1a1a1"/>
<rect x="103" y="133.40" width="1" height="77.40" fill="#aeaeae"/>
<rect x="104" y="133.40" width="1" height="77.40" fill="#a6a6a6"/>
<rect x="105" y="133.40" width="1" height="77.40" fill="#9b9b9b"/>
<rect x="106" y="133.40" width="1" height="77.40" fill="#a4a4a4"/>
<rect x="107" y="133.40" width="1" height="77.40" fill="#a7a7a7"/>
<rect x="108" y="133.40" width="1" height="77.40" fill="#a2a2a2"/>
<rect x="109" y="133.40" width="1" height="77.40" fill="#afafaf"/>
<rect x="110" y="133.40" width="1" height="77.40" fill="#a0a0a0"/>
<rect x="111" y="133.40" width="1" height="77.40" fill="#a1a1a1"/>
<rect x="112" y="133.40" width="1" height="77.40" fill="#a5a5a5"/>
<rect x="113" y="133.40" width="1" height="77.40" fill="#9c9c9c"/>
<rect x="114" y="133.40" width="1" height="77.40" fill="#a2a2a2"/>
<rect x="115" y="133.40" width="1" height="77.40" fill="#b4b4b4"/>
<rect x="116" y="133.40" width="1" height="77.40" fill="#b4b4b4"/>
<rect x="117" y="133.40" width="1" height="77.40" fill="#aeaeae"/>
<rect x="118" y="133.40" width="1" height="77.40" fill="#a6a6a6"/>
<rect x="119" y="133.40" width="1" height="77.40" fill="#959595"/>
<rect x="120" y="133.40" width="1" height="77.40" fill="#a2a2a2"/>
<rect x="121" y="133.40" width="1" height="77.40" fill="#bdbdbd"/>
<rect x="122" y="133.40" width="1" height="77.40" fill="#b9b9b9"/>
<rect x="123" y="133.40" width="1" height="77.40" fill="#a6a6a6"/>
<rect x="124" y="133.40" width="1" height="77.40" fill="#a2a2a2"/>
<rect x="125" y="133.40" width="1" height="77.40" fill="#a7a7a7"/>
<rect x="126" y="133.40" width="1" height="77.40" fill="#a0a0a0"/>
<rect x="127" y="133.40" width="1" height="77.40" fill="#a2a2a2"/>
<rect x="128" y="133.40" width="1" height="77.40" fill="#a5a5a5"/>
<rect x="129" y="133.40" width="1" height="77.40" fill="#a0a0a0"/>
<rect x="130" y="133.40" width="1" height="77.40" fill="#a2a2a2"/>
<rect x="131" y="133.40" width="1" height="77.40" fill="#a4a4a4"/>
<rect x="132" y="133.40" width="1" height="77.40" fill="#b1b1b1"/>
<rect x="133" y="133.40" width="1" height="77.40" fill="#aaaaaa"/>
<rect x="134" y="133.40" width="1" height="77.40" fill="#a2a2a2"/>
<rect x="135" y="133.40" width="1" height="77.40" fill="#aaaaaa"/>
<rect x="136" y="133.40" width="1" height="77.40" fill="#a4a4a4"/>
<rect x="137" y="133.40" width="1" height="77.40" fill="#a0a0a0"/>
<rect x="138" y="133.40" width="1" height="77.40" fill="#aaaaaa"/>
<rect x="139" y="133.40" width="1" height="77.40" fill="#a0a0a0"/>
<rect x="140" y="133.40" width="1" height="77.40" fill="#a3a3a3"/>
<rect x="141" y="133.40" width="1" height="77.40" fill="#a9a9a9"/>
<rect x="142" y="133.40" width="1" height="77.40" fill="#979797"/>
<rect x="143" y="133.40" width="1" height="77.40" fill="#a4a4a4"/>
<rect x="144" y="133.40" width="1" height="77.40" fill="#a6a6a6"/>
<rect x="145" y="133.40" width="1" height="77.40" fill="#a5a5a5"/>
<rect x="146" y="133.40" width="1" height="77.40" fill="#a5a5a5"/>
<rect x="147" y="133.40" width="1" height="77.40" fill="#acacac"/>
<rect x="148" y="133.40" width="1" height="77.40" fill="#969696"/>
<rect x="149" y="133.40" width="1" height="77.40" fill="#9a9a9a"/>
<rect x="150" y="133.40" width="1" height="77.40" fill="#a2a2a2"/>
<rect x="151" y="133.40" width="1" height="77.40" fill="#a1a1a1"/>
<rect x="152" y="133.40" width="1" height="77.40" fill="#b0b0b0"/>
<rect x="153" y="133.40" width="1" height="77.40" fill="#adadad"/>
<rect x="154" y="133.40" width="1" height="77.40" fill="#a2a2a2"/>
<rect x="155" y="133.40" width="1" height="77.40" fill="#b2b2b2"/>
<rect x="156" y="133.40" width="1" height="77.40" fill="#999999"/>
<rect x="157" y="133.40" width="1" height="77.40" fill="#a0a0a0"/>
<rect x="158" y="133.40" width="1" height="77.40" fill="#b7b7b7"/>
<line x1="222.50" y1="208.70" x2="355.40" y2="208.70" stroke="#d0d0d0" stroke-width="0.8"/>
<rect x="227.50" y="130.50" width="123.70" height="77.30" fill="#888888"/>
<rect x="228" y="130.50" width="1" height="77.30" fill="#8a8a8a"/>
<rect x="229" y="130.50" width="1" height="77.30" fill="#8e8e8e"/>
<rect x="230" y="130.50" width="1" height="77.30" fill="#8f8f8f"/>
<rect x="231" y="130.50" width="1" height="77.30" fill="#959595"/>
<rect x="232" y="130.50" width="1" height="77.30" fill="#848484"/>
<rect x="233" y="130.50" width="1" height="77.30" fill="#818181"/>
<rect x="234" y="130.50" width="1" height="77.30" fill="#949494"/>
<rect x="235" y="130.50" width="1" height="77.30" fill="#8a8a8a"/>
<rect x="236" y="130.50" width="1" height="77.30" fill="#9a9a9a"/>
<rect x="237" y="130.50" width="1" height="77.30" fill="#8f8f8f"/>
<rect x="238" y="130.50" width="1" height="77.30" fill="#888888"/>
<rect x="239" y="130.50" width="1" height="77.30" fill="#8d8d8d"/>
<rect x="240" y="130.50" width="1" height="77.30" fill="#909090"/>
<rect x="241" y="130.50" width="1" height="77.30" fill="#8a8a8a"/>
<rect x="242" y="130.50" width="1" height="77.30" fill="#9f9f9f"/>
<rect x="243" y="130.50" width="1" height="77.30" fill="#898989"/>
<rect x="244" y="130.50" width="1" height="77.30" fill="#979797"/>
<rect x="245" y="130.50" width="1" height="77.30" fill="#999999"/>
<rect x="246" y="130.50" width="1" height="77.30" fill="#8a8a8a"/>
<rect x="247" y="130.50" width="1" height="77.30" fill="#7e7e7e"/>
<rect x="248" y="130.50" width="1" height="77.30" fill="#838383"/>
<rect x="249" y="130.50" width="1" height="77.30" fill="#9b9b9b"/>
<rect x="250" y="130.50" width="1" height="77.30" fill="#8d8d8d"/>
<rect x="251" y="130.50" width="1" height="77.30" fill="#828282"/>
<rect x="252" y="130.50" width="1" height="77.30" fill="#979797"/>
<rect x="253" y="130.50" width="1" height="77.30" fill="#838383"/>
<rect x="254" y="130.50" width="1" height="77.30" fill="#868686"/>
<rect x="255" y="130.50" width="1" height="77.30" fill="#878787"/>
<rect x="256" y="130.50" width="1" height="77.30" fill="#858585"/>
<rect x="257" y="130.50" width="1" height="77.30" fill="#8a8a8a"/>
<rect x="258" y="130.50" width="1" height="77.30" fill="#888888"/>
<rect x="259" y="130.50" width="1" height="77.30" fill="#8b8b8b"/>
<rect x="260" y="130.50" width="1" height="77.30" fill="#828282"/>
<rect x="261" y="130.50" width="1" height="77.30" fill="#898989"/>
<rect x="262" y="130.50" width="1" height="77.30" fill="#878787"/>
<rect x="263" y="130.50" width="1" height="77.30" fill="#858585"/>
<rect x="264" y="130.50" width="1" height="77.30" fill="#8a8a8a"/>
<rect x="265" y="130.50" width="1" height="77.30" fill="#868686"/>
<rect x="266" y="130.50" width="1" height="77.30" fill="#949494"/>
<rect x="267" y="130.50" width="1" height="77.30" fill="#8a8a8a"/>
<rect x="268" y="130.50" width="1" height="77.30" fill="#8d8d8d"/>
<rect x="269" y="130.50" width="1" height="77.30" fill="#959595"/>
<rect x="270" y="130.50" width="1" height="77.30" fill="#888888"/>
<rect x="271" y="130.50" width="1" height="77.30" fill="#8b8b8b"/>
<rect x="272" y="130.50" width="1" height="77.30" fill="#797979"/>
<rect x="273" y="130.50" width="1" height="77.30" fill="#8b8b8b"/>
<rect x="274" y="130.50" width="1" height="77.30" fill="#929292"/>
<rect x="275" y="130.50" width="1" height="77.30" fill="#929292"/>
<rect x="276" y="130.50" width="1" height="77.30" fill="#9e9e9e"/>
<rect x="277" y="130.50" width="1" height="77.30" fill="#939393"/>
<rect x="278" y="130.50" width="1" height="77.30" fill="#959595"/>
<rect x="279" y="130.50" width="1" height="77.30" fill="#909090"/>
<rect x="280" y="130.50" width="1" height="77.30" fill="#797979"/>
<rect x="281" y="130.50" width="1" height="77.30" fill="#8e8e8e"/>
<rect x="282" y="130.50" width="1" height="77.30" fill="#7d7d7d"/>
<rect x="283" y="130.50" width="1" height="77.30" fill="#8e8e8e"/>
<rect x="284" y="130.50" width="1" height="77.30" fill="#7d7d7d"/>
<rect x="285" y="130.50" width="1" height="77.30" fill="#919191"/>
<rect x="286" y="130.50" width="1" height="77.30" fill="#959595"/>
<rect x="287" y="130.50" width="1" height="77.30" fill="#949494"/>
<rect x="288" y="130.50" width="1" height="77.30" fill="#868686"/>
<rect x="289" y="130.50" width="1" height="77.30" fill="#898989"/>
<rect x="290" y="130.50" width="1" height="77.30" fill="#8d8d8d"/>
<rect x="291" y="130.50" width="1" height="77.30" fill="#787878"/>
<rect x="292" y="130.50" width="1" height="77.30" fill="#898989"/>
<rect x="293" y="130.50" width="1" height="77.30" fill="#7e7e7e"/>
<rect x="294" y="130.50" width="1" height="77.30" fill="#909090"/>
<rect x="295" y="130.50" width="1" height="77.30" fill="#959595"/>
<rect x="296" y="130.50" width="1" height="77.30" fill="#939393"/>
<rect x="297" y="130.50" width="1" height="77.30" fill="#808080"/>
<rect x="298" y="130.50" width="1" height="77.30" fill="#7d7d7d"/>
<rect x="299" y="130.50" width="1" height="77.30" fill="#9e9e9e"/>
<rect x="300" y="130.50" width="1" height="77.30" fill="#7d7d7d"/>
<rect x="301" y="130.50" width="1" height="77.30" fill="#8b8b8b"/>
<rect x="302" y="130.50" width="1" height="77.30" fill="#888888"/>
<rect x="303" y="130.50" width="1" height="77.30" fill="#828282"/>
<rect x="304" y="130.50" width="1" height="77.30" fill="#838383"/>
<rect x="305" y="130.50" width="1" height="77.30" fill="#808080"/>
<rect x="306" y="130.50" width="1" height="77.30" fill="#939393"/>
<rect x="307" y="130.50" width="1" height="77.30" fill="#8d8d8d"/>
<rect x="308" y="130.50" width="1" height="77.30" fill="#8b8b8b"/>
<rect x="309" y="130.50" width="1" height="77.30" fill="#919191"/>
<rect x="310" y="130.50" width="1" height="77.30" fill="#7d7d7d"/>
<rect x="311" y="130.50" width="1" height="77.30" fill="#959595"/>
<rect x="312" y="130.50" width="1" height="77.30" fill="#8b8b8b"/>
<rect x="313" y="130.50" width="1" height="77.30" fill="#8f8f8f"/>
<rect x="314" y="130.50" width="1" height="77.30" fill="#868686"/>
<rect x="315" y="130.50" width="1" height="77.30" fill="#7c7c7c"/>
<rect x="316" y="130.50" width="1" height="77.30" fill="#7e7e7e"/>
<rect x="317" y="130.50" width="1" height="77.30" fill="#909090"/>
<rect x="318" y="130.50" width="1" height="77.30" fill="#868686"/>
<rect x="319" y="130.50" width="1" height="77.30" fill="#8a8a8a"/>
<rect x="320" y="130.50" width="1" height="77.30" fill="#949494"/>
<rect x="321" y="130.50" width="1" height="77.30" fill="#909090"/>
<rect x="322" y="130.50" width="1" height="77.30" fill="#979797"/>
<rect x="323" y="130.50" width="1" height="77.30" fill="#989898"/>
<rect x="324" y="130.50" width="1" height="77.30" fill="#8f8f8f"/>
<rect x="325" y="130.50" width="1" height="77.30" fill="#8e8e8e"/>
<rect x="326" y="130.50" width="1" height="77.30" fill="#818181"/>
<rect x="327" y="130.50" width="1" height="77.30" fill="#a0a0a0"/>
<rect x="328" y="130.50" width="1" height="77.30" fill="#818181"/>
<rect x="329" y="130.50" width="1" height="77.30" fill="#777777"/>
<rect x="330" y="130.50" width="1" height="77.30" fill="#8e8e8e"/>
<rect x="331" y="130.50" width="1" height="77.30" fill="#838383"/>
<rect x="332" y="130.50" width="1" height="77.30" fill="#838383"/>
<rect x="333" y="130.50" width="1" height="77.30" fill="#8f8f8f"/>
<rect x="334" y="130.50" width="1" height="77.30" fill="#838383"/>
<rect x="335" y="130.50" width="1" height="77.30" fill="#959595"/>
<rect x="336" y="130.50" width="1" height="77.30" fill="#8d8d8d"/>
<rect x="337" y="130.50" width="1" height="77.30" fill="#7d7d7d"/>
<rect x="338" y="130.50" width="1" height="77.30" fill="#8c8c8c"/>
<rect x="339" y="130.50" width="1" height="77.30" fill="#888888"/>
<rect x="340" y="130.50" width="1" height="77.30" fill="#969696"/>
<rect x="341" y="130.50" width="1" height="77.30" fill="#a6a6a6"/>
<rect x="342" y="130.50" width="1" height="77.30" fill="#848484"/>
<rect x="343" y="130.50" width="1" height="77.30" fill="#868686"/>
<rect x="344" y="130.50" width="1" height="77.30" fill="#878787"/>
<rect x="345" y="130.50" width="1" height="77.30" fill="#848484"/>
<rect x="346" y="130.50" width="1" height="77.30" fill="#838383"/>
<rect x="347" y="130.50" width="1" height="77.30" fill="#818181"/>
<rect x="348" y="130.50" width="1" height="77.30" fill="#868686"/>
<rect x="349" y="130.50" width="1" height="77.30" fill="#8c8c8c"/>
<rect x="350" y="130.50" width="1" height="77.30" fill="#7e7e7e"/>
<line x1="411.20" y1="207.40" x2="543.40" y2="207.40" stroke="#d0d0d0" stroke-width="0.8"/>
<rect x="415.60" y="130.30" width="123.20" height="76.20" fill="#4a494a"/>
<rect x="416" y="130.30" width="1" height="76.20" fill="#494849"/>
<rect x="417" y="130.30" width="1" height="76.20" fill="#4c4b4c"/>
<rect x="418" y="130.30" width="1" height="76.20" fill="#444344"/>
<rect x="419" y="130.30" width="1" height="76.20" fill="#474647"/>
<rect x="420" y="130.30" width="1" height="76.20" fill="#4d4c4d"/>
<rect x="421" y="130.30" width="1" height="76.20" fill="#555455"/>
<rect x="422" y="130.30" width="1" height="76.20" fill="#4a494a"/>
<rect x="423" y="130.30" width="1" height="76.20" fill="#504f50"/>
<rect x="424" y="130.30" width="1" height="76.20" fill="#494849"/>
<rect x="425" y="130.30" width="1" height="76.20" fill="#4d4c4d"/>
<rect x="426" y="130.30" width="1" height="76.20" fill="#4b4a4b"/>
<rect x="427" y="130.30" width="1" height="76.20" fill="#4d4c4d"/>
<rect x="428" y="130.30" width="1" height="76.20" fill="#504f50"/>
<rect x="429" y="130.30" width="1" height="76.20" fill="#4d4c4d"/>
<rect x="430" y="130.30" width="1" height="76.20" fill="#474647"/>
<rect x="431" y="130.30" width="1" height="76.20" fill="#4c4b4c"/>
<rect x="432" y="130.30" width="1" height="76.20" fill="#4c4b4c"/>
<rect x="433" y="130.30" width="1" height="76.20" fill="#525152"/>
<rect x="434" y="130.30" width="1" height="76.20" fill="#464546"/>
<rect x="435" y="130.30" width="1" height="76.20" fill="#4d4c4d"/>
<rect x="436" y="130.30" width="1" height="76.20" fill="#4a494a"/>
<rect x="437" y="130.30" width="1" height="76.20" fill="#464546"/>
<rect x="438" y="130.30" width="1" height="76.20" fill="#4a494a"/>
<rect x="439" y="130.30" width="1" height="76.20" fill="#474647"/>
<rect x="440" y="130.30" width="1" height="76.20" fill="#474647"/>
<rect x="441" y="130.30" width="1" height="76.20" fill="#494849"/>
<rect x="442" y="130.30" width="1" height="76.20" fill="#4a494a"/>
<rect x="443" y="130.30" width="1" height="76.20" fill="#494849"/>
<rect x="444" y="130.30" width="1" height="76.20" fill="#454445"/>
<rect x="445" y="130.30" width="1" height="76.20" fill="#515051"/>
<rect x="446" y="130.30" width="1" height="76.20" fill="#4e4d4e"/>
<rect x="447" y="130.30" width="1" height="76.20" fill="#4c4b4c"/>
<rect x="448" y="130.30" width="1" height="76.20" fill="#4c4b4c"/>
<rect x="449" y="130.30" width="1" height="76.20" fill="#4d4c4d"/>
<rect x="450" y="130.30" width="1" height="76.20" fill="#444344"/>
<rect x="451" y="130.30" width="1" height="76.20" fill="#434243"/>
<rect x="452" y="130.30" width="1" height="76.20" fill="#4b4a4b"/>
<rect x="453" y="130.30" width="1" height="76.20" fill="#464546"/>
<rect x="454" y="130.30" width="1" height="76.20" fill="#484748"/>
<rect x="455" y="130.30" width="1" height="76.20" fill="#4d4c4d"/>
<rect x="456" y="130.30" width="1" height="76.20" fill="#4d4c4d"/>
<rect x="457" y="130.30" width="1" height="76.20" fill="#515051"/>
<rect x="458" y="130.30" width="1" height="76.20" fill="#4e4d4e"/>
<rect x="459" y="130.30" width="1" height="76.20" fill="#434243"/>
<rect x="460" y="130.30" width="1" height="76.20" fill="#4d4c4d"/>
<rect x="461" y="130.30" width="1" height="76.20" fill="#4b4a4b"/>
<rect x="462" y="130.30" width="1" height="76.20" fill="#484748"/>
<rect x="463" y="130.30" width="1" height="76.20" fill="#464546"/>
<rect x="464" y="130.30" width="1" height="76.20" fill="#494849"/>
<rect x="465" y="130.30" width="1" height="76.20" fill="#515051"/>
<rect x="466" y="130.30" width="1" height="76.20" fill="#4d4c4d"/>
<rect x="467" y="130.30" width="1" height="76.20" fill="#4e4d4e"/>
<rect x="468" y="130.30" width="1" height="76.20" fill="#504f50"/>
<rect x="469" y="130.30" width="1" height="76.20" fill="#454445"/>
<rect x="470" y="130.30" width="1" height="76.20" fill="#4d4c4d"/>
<rect x="471" y="130.30" width="1" height="76.20" fill="#444344"/>
<rect x="472" y="130.30" width="1" height="76.20" fill="#494849"/>
<rect x="473" y="130.30" width="1" height="76.20" fill="#4d4c4d"/>
<rect x="474" y="130.30" width="1" height="76.20" fill="#454445"/>
<rect x="475" y="130.30" width="1" height="76.20" fill="#464546"/>
<rect x="476" y="130.30" width="1" height="76.20" fill="#4a494a"/>
<rect x="477" y="130.30" width="1" height="76.20" fill="#4c4b4c"/>
<rect x="478" y="130.30" width="1" height="76.20" fill="#4b4a4b"/>
<rect x="479" y="130.30" width="1" height="76.20" fill="#4f4e4f"/>
<rect x="480" y="130.30" width="1" height="76.20" fill="#535253"/>
<rect x="481" y="130.30" width="1" height="76.20" fill="#474647"/>
<rect x="482" y="130.30" width="1" height="76.20" fill="#545354"/>
<rect x="483" y="130.30" width="1" height="76.20" fill="#4c4b4c"/>
<rect x="484" y="130.30" width="1" height="76.20" fill="#4c4b4c"/>
<rect x="485" y="130.30" width="1" height="76.20" fill="#484748"/>
<rect x="486" y="130.30" width="1" height="76.20" fill="#4c4b4c"/>
<rect x="487" y="130.30" width="1" height="76.20" fill="#4c4b4c"/>
<rect x="488" y="130.30" width="1" height="76.20" fill="#484748"/>
<rect x="489" y="130.30" width="1" height="76.20" fill="#4e4d4e"/>
<rect x="490" y="130.30" width="1" height="76.20" fill="#4c4b4c"/>
<rect x="491" y="130.30" width="1" height="76.20" fill="#515051"/>
<rect x="492" y="130.30" width="1" height="76.20" fill="#585758"/>
<rect x="493" y="130.30" width="1" height="76.20" fill="#4b4a4b"/>
<rect x="494" y="130.30" width="1" height="76.20" fill="#494849"/>
<rect x="495" y="130.30" width="1" height="76.20" fill="#4b4a4b"/>
<rect x="496" y="130.30" width="1" height="76.20" fill="#474647"/>
<rect x="497" y="130.30" width="1" height="76.20" fill="#484748"/>
<rect x="498" y="130.30" width="1" height="76.20" fill="#4b4a4b"/>
<rect x="499" y="130.30" width="1" height="76.20" fill="#515051"/>
<rect x="500" y="130.30" width="1" height="76.20" fill="#4d4c4d"/>
<rect x="501" y="130.30" width="1" height="76.20" fill="#515051"/>
<rect x="502" y="130.30" width="1" height="76.20" fill="#484748"/>
<rect x="503" y="130.30" width="1" height="76.20" fill="#4a494a"/>
<rect x="504" y="130.30" width="1" height="76.20" fill="#494849"/>
<rect x="505" y="130.30" width="1" height="76.20" fill="#464546"/>
<rect x="506" y="130.30" width="1" height="76.20" fill="#484748"/>
<rect x="507" y="130.30" width="1" height="76.20" fill="#4c4b4c"/>
<rect x="508" y="130.30" width="1" height="76.20" fill="#464546"/>
<rect x="509" y="130.30" width="1" height="76.20" fill="#4a494a"/>
<rect x="510" y="130.30" width="1" height="76.20" fill="#4b4a4b"/>
<rect x="511" y="130.30" width="1" height="76.20" fill="#4d4c4d"/>
<rect x="512" y="130.30" width="1" height="76.20" fill="#504f50"/>
<rect x="513" y="130.30" width="1" height="76.20" fill="#494849"/>
<rect x="514" y="130.30" width="1" height="76.20" fill="#515051"/>
<rect x="515" y="130.30" width="1" height="76.20" fill="#444344"/>
<rect x="516" y="130.30" width="1" height="76.20" fill="#515051"/>
<rect x="517" y="130.30" width="1" height="76.20" fill="#4b4a4b"/>
<rect x="518" y="130.30" width="1" height="76.20" fill="#525152"/>
<rect x="519" y="130.30" width="1" height="76.20" fill="#4d4c4d"/>
<rect x="520" y="130.30" width="1" height="76.20" fill="#555455"/>
<rect x="521" y="130.30" width="1" height="76.20" fill="#525152"/>
<rect x="522" y="130.30" width="1" height="76.20" fill="#454445"/>
<rect x="523" y="130.30" width="1" height="76.20" fill="#504f50"/>
<rect x="524" y="130.30" width="1" height="76.20" fill="#535253"/>
<rect x="525" y="130.30" width="1" height="76.20" fill="#4b4a4b"/>
<rect x="526" y="130.30" width="1" height="76.20" fill="#3f3e3f"/>
<rect x="527" y="130.30" width="1" height="76.20" fill="#4c4b4c"/>
<rect x="528" y="130.30" width="1" height="76.20" fill="#4b4a4b"/>
<rect x="529" y="130.30" width="1" height="76.20" fill="#535253"/>
<rect x="530" y="130.30" width="1" height="76.20" fill="#464546"/>
<rect x="531" y="130.30" width="1" height="76.20" fill="#484748"/>
<rect x="532" y="130.30" width="1" height="76.20" fill="#525152"/>
<rect x="533" y="130.30" width="1" height="76.20" fill="#4b4a4b"/>
<rect x="534" y="130.30" width="1" height="76.20" fill="#4e4d4e"/>
<rect x="535" y="130.30" width="1" height="76.20" fill="#4a494a"/>
<rect x="536" y="130.30" width="1" height="76.20" fill="#545354"/>
<rect x="537" y="130.30" width="1" height="76.20" fill="#4b4a4b"/>
<path d="M462,132 C448,136 438,146 446,154 C456,162 478,166 490,176 C500,186 504,196 507,206" fill="none" stroke="#000" stroke-opacity="0.07" stroke-width="7"/>
<line x1="30.30" y1="19.35" x2="30.30" y2="21.55" stroke="#747474" stroke-width="0.6"/>
<line x1="30.30" y1="117.50" x2="30.30" y2="115.30" stroke="#747474" stroke-width="0.6"/>
<line x1="30.30" y1="215.50" x2="30.30" y2="213.30" stroke="#747474" stroke-width="0.6"/>
<line x1="46.09" y1="19.35" x2="46.09" y2="20.95" stroke="#747474" stroke-width="0.6"/>
<line x1="46.09" y1="117.50" x2="46.09" y2="115.90" stroke="#747474" stroke-width="0.6"/>
<line x1="46.09" y1="215.50" x2="46.09" y2="213.90" stroke="#747474" stroke-width="0.6"/>
<line x1="61.88" y1="19.35" x2="61.88" y2="21.55" stroke="#747474" stroke-width="0.6"/>
<line x1="61.88" y1="117.50" x2="61.88" y2="115.30" stroke="#747474" stroke-width="0.6"/>
<line x1="61.88" y1="215.50" x2="61.88" y2="213.30" stroke="#747474" stroke-width="0.6"/>
<line x1="77.67" y1="19.35" x2="77.67" y2="20.95" stroke="#747474" stroke-width="0.6"/>
<line x1="77.67" y1="117.50" x2="77.67" y2="115.90" stroke="#747474" stroke-width="0.6"/>
<line x1="77.67" y1="215.50" x2="77.67" y2="213.90" stroke="#747474" stroke-width="0.6"/>
<line x1="93.46" y1="19.35" x2="93.46" y2="21.55" stroke="#747474" stroke-width="0.6"/>
<line x1="93.46" y1="117.50" x2="93.46" y2="115.30" stroke="#747474" stroke-width="0.6"/>
<line x1="93.46" y1="215.50" x2="93.46" y2="213.30" stroke="#747474" stroke-width="0.6"/>
<line x1="109.25" y1="19.35" x2="109.25" y2="20.95" stroke="#747474" stroke-width="0.6"/>
<line x1="109.25" y1="117.50" x2="109.25" y2="115.90" stroke="#747474" stroke-width="0.6"/>
<line x1="109.25" y1="215.50" x2="109.25" y2="213.90" stroke="#747474" stroke-width="0.6"/>
<line x1="125.04" y1="19.35" x2="125.04" y2="21.55" stroke="#747474" stroke-width="0.6"/>
<line x1="125.04" y1="117.50" x2="125.04" y2="115.30" stroke="#747474" stroke-width="0.6"/>
<line x1="125.04" y1="215.50" x2="125.04" y2="213.30" stroke="#747474" stroke-width="0.6"/>
<line x1="140.83" y1="19.35" x2="140.83" y2="20.95" stroke="#747474" stroke-width="0.6"/>
<line x1="140.83" y1="117.50" x2="140.83" y2="115.90" stroke="#747474" stroke-width="0.6"/>
<line x1="140.83" y1="215.50" x2="140.83" y2="213.90" stroke="#747474" stroke-width="0.6"/>
<line x1="156.62" y1="19.35" x2="156.62" y2="21.55" stroke="#747474" stroke-width="0.6"/>
<line x1="156.62" y1="117.50" x2="156.62" y2="115.30" stroke="#747474" stroke-width="0.6"/>
<line x1="156.62" y1="215.50" x2="156.62" y2="213.30" stroke="#747474" stroke-width="0.6"/>
<line x1="28.60" y1="107.50" x2="30.70" y2="107.50" stroke="#747474" stroke-width="0.6"/>
<line x1="163.50" y1="107.50" x2="161.40" y2="107.50" stroke="#747474" stroke-width="0.6"/>
<line x1="28.60" y1="97.71" x2="30.70" y2="97.71" stroke="#747474" stroke-width="0.6"/>
<line x1="163.50" y1="97.71" x2="161.40" y2="97.71" stroke="#747474" stroke-width="0.6"/>
<line x1="28.60" y1="87.92" x2="30.70" y2="87.92" stroke="#747474" stroke-width="0.6"/>
<line x1="163.50" y1="87.92" x2="161.40" y2="87.92" stroke="#747474" stroke-width="0.6"/>
<line x1="28.60" y1="78.13" x2="30.70" y2="78.13" stroke="#747474" stroke-width="0.6"/>
<line x1="163.50" y1="78.13" x2="161.40" y2="78.13" stroke="#747474" stroke-width="0.6"/>
<line x1="28.60" y1="68.34" x2="30.70" y2="68.34" stroke="#747474" stroke-width="0.6"/>
<line x1="163.50" y1="68.34" x2="161.40" y2="68.34" stroke="#747474" stroke-width="0.6"/>
<line x1="28.60" y1="58.55" x2="30.70" y2="58.55" stroke="#747474" stroke-width="0.6"/>
<line x1="163.50" y1="58.55" x2="161.40" y2="58.55" stroke="#747474" stroke-width="0.6"/>
<line x1="28.60" y1="48.76" x2="30.70" y2="48.76" stroke="#747474" stroke-width="0.6"/>
<line x1="163.50" y1="48.76" x2="161.40" y2="48.76" stroke="#747474" stroke-width="0.6"/>
<line x1="28.60" y1="38.97" x2="30.70" y2="38.97" stroke="#747474" stroke-width="0.6"/>
<line x1="163.50" y1="38.97" x2="161.40" y2="38.97" stroke="#747474" stroke-width="0.6"/>
<line x1="28.60" y1="29.18" x2="30.70" y2="29.18" stroke="#747474" stroke-width="0.6"/>
<line x1="163.50" y1="29.18" x2="161.40" y2="29.18" stroke="#747474" stroke-width="0.6"/>
<line x1="28.60" y1="210.80" x2="30.70" y2="210.80" stroke="#747474" stroke-width="0.6"/>
<line x1="163.50" y1="210.80" x2="161.40" y2="210.80" stroke="#747474" stroke-width="0.6"/>
<line x1="28.60" y1="197.90" x2="30.70" y2="197.90" stroke="#747474" stroke-width="0.6"/>
<line x1="163.50" y1="197.90" x2="161.40" y2="197.90" stroke="#747474" stroke-width="0.6"/>
<line x1="28.60" y1="185.00" x2="30.70" y2="185.00" stroke="#747474" stroke-width="0.6"/>
<line x1="163.50" y1="185.00" x2="161.40" y2="185.00" stroke="#747474" stroke-width="0.6"/>
<line x1="28.60" y1="172.10" x2="30.70" y2="172.10" stroke="#747474" stroke-width="0.6"/>
<line x1="163.50" y1="172.10" x2="161.40" y2="172.10" stroke="#747474" stroke-width="0.6"/>
<line x1="28.60" y1="159.20" x2="30.70" y2="159.20" stroke="#747474" stroke-width="0.6"/>
<line x1="163.50" y1="159.20" x2="161.40" y2="159.20" stroke="#747474" stroke-width="0.6"/>
<line x1="28.60" y1="146.30" x2="30.70" y2="146.30" stroke="#747474" stroke-width="0.6"/>
<line x1="163.50" y1="146.30" x2="161.40" y2="146.30" stroke="#747474" stroke-width="0.6"/>
<line x1="28.60" y1="133.40" x2="30.70" y2="133.40" stroke="#747474" stroke-width="0.6"/>
<line x1="163.50" y1="133.40" x2="161.40" y2="133.40" stroke="#747474" stroke-width="0.6"/>
<line x1="28.60" y1="120.50" x2="30.70" y2="120.50" stroke="#747474" stroke-width="0.6"/>
<line x1="163.50" y1="120.50" x2="161.40" y2="120.50" stroke="#747474" stroke-width="0.6"/>
<rect x="28.60" y="19.35" width="134.90" height="196.15" fill="none" stroke="#747474" stroke-width="0.9"/>
<line x1="28.60" y1="117.50" x2="163.50" y2="117.50" stroke="#747474" stroke-width="0.9"/>
<text x="1.20" y="17.70" font-size="14.5" text-anchor="start" font-weight="bold" fill="#0c0c0c">a</text>
<text x="30.40" y="15.90" font-size="10.2" text-anchor="middle" font-weight="normal" fill="#2e2e2e" stroke="#2e2e2e" stroke-width="0.22">0</text>
<text x="30.40" y="226.80" font-size="10.2" text-anchor="middle" font-weight="normal" fill="#2e2e2e" stroke="#2e2e2e" stroke-width="0.22">0</text>
<text x="61.98" y="15.90" font-size="10.2" text-anchor="middle" font-weight="normal" fill="#2e2e2e" stroke="#2e2e2e" stroke-width="0.22">100</text>
<text x="61.98" y="226.80" font-size="10.2" text-anchor="middle" font-weight="normal" fill="#2e2e2e" stroke="#2e2e2e" stroke-width="0.22">100</text>
<text x="93.56" y="15.90" font-size="10.2" text-anchor="middle" font-weight="normal" fill="#2e2e2e" stroke="#2e2e2e" stroke-width="0.22">200</text>
<text x="93.56" y="226.80" font-size="10.2" text-anchor="middle" font-weight="normal" fill="#2e2e2e" stroke="#2e2e2e" stroke-width="0.22">200</text>
<text x="125.14" y="15.90" font-size="10.2" text-anchor="middle" font-weight="normal" fill="#2e2e2e" stroke="#2e2e2e" stroke-width="0.22">300</text>
<text x="125.14" y="226.80" font-size="10.2" text-anchor="middle" font-weight="normal" fill="#2e2e2e" stroke="#2e2e2e" stroke-width="0.22">300</text>
<text x="156.72" y="15.90" font-size="10.2" text-anchor="middle" font-weight="normal" fill="#2e2e2e" stroke="#2e2e2e" stroke-width="0.22">400</text>
<text x="156.72" y="226.80" font-size="10.2" text-anchor="middle" font-weight="normal" fill="#2e2e2e" stroke="#2e2e2e" stroke-width="0.22">400</text>
<text x="27.00" y="111.07" font-size="10.2" text-anchor="end" font-weight="normal" fill="#2e2e2e" stroke="#2e2e2e" stroke-width="0.22">0</text>
<text x="27.00" y="91.49" font-size="10.2" text-anchor="end" font-weight="normal" fill="#2e2e2e" stroke="#2e2e2e" stroke-width="0.22">1</text>
<text x="27.00" y="71.91" font-size="10.2" text-anchor="end" font-weight="normal" fill="#2e2e2e" stroke="#2e2e2e" stroke-width="0.22">2</text>
<text x="27.00" y="52.33" font-size="10.2" text-anchor="end" font-weight="normal" fill="#2e2e2e" stroke="#2e2e2e" stroke-width="0.22">3</text>
<text x="27.00" y="32.75" font-size="10.2" text-anchor="end" font-weight="normal" fill="#2e2e2e" stroke="#2e2e2e" stroke-width="0.22">4</text>
<text x="27.00" y="214.37" font-size="10.2" text-anchor="end" font-weight="normal" fill="#2e2e2e" stroke="#2e2e2e" stroke-width="0.22">0</text>
<text x="27.00" y="188.57" font-size="10.2" text-anchor="end" font-weight="normal" fill="#2e2e2e" stroke="#2e2e2e" stroke-width="0.22">0.5</text>
<text x="27.00" y="162.77" font-size="10.2" text-anchor="end" font-weight="normal" fill="#2e2e2e" stroke="#2e2e2e" stroke-width="0.22">1</text>
<text x="27.00" y="136.97" font-size="10.2" text-anchor="end" font-weight="normal" fill="#2e2e2e" stroke="#2e2e2e" stroke-width="0.22">1.5</text>
<text x="0" y="0" font-size="12.2" fill="#2e2e2e" stroke="#2e2e2e" stroke-width="0.22" transform="translate(12.10,89.40) rotate(-90)">Strain [%]</text>
<text x="0" y="0" font-size="12.2" fill="#2e2e2e" stroke="#2e2e2e" stroke-width="0.22" transform="translate(9.00,191.40) rotate(-90)">Voltage [kV]</text>
<text x="73.55" y="240.10" font-size="12.7" text-anchor="start" font-weight="normal" fill="#2e2e2e" stroke="#2e2e2e" stroke-width="0.22">Time [s]</text>
<text x="33.70" y="129.40" font-size="10.7" fill="#1e1e1e" stroke="#1e1e1e" stroke-width="0.22"><tspan font-weight="bold">A4</tspan>, 288 µm, 5.2 V µm<tspan font-size="6.63" dy="-4.49">-1</tspan></text>
<line x1="225.50" y1="15.05" x2="225.50" y2="17.25" stroke="#747474" stroke-width="0.6"/>
<line x1="225.50" y1="115.30" x2="225.50" y2="113.10" stroke="#747474" stroke-width="0.6"/>
<line x1="225.50" y1="215.20" x2="225.50" y2="213.00" stroke="#747474" stroke-width="0.6"/>
<line x1="240.97" y1="15.05" x2="240.97" y2="16.65" stroke="#747474" stroke-width="0.6"/>
<line x1="240.97" y1="115.30" x2="240.97" y2="113.70" stroke="#747474" stroke-width="0.6"/>
<line x1="240.97" y1="215.20" x2="240.97" y2="213.60" stroke="#747474" stroke-width="0.6"/>
<line x1="256.45" y1="15.05" x2="256.45" y2="17.25" stroke="#747474" stroke-width="0.6"/>
<line x1="256.45" y1="115.30" x2="256.45" y2="113.10" stroke="#747474" stroke-width="0.6"/>
<line x1="256.45" y1="215.20" x2="256.45" y2="213.00" stroke="#747474" stroke-width="0.6"/>
<line x1="271.93" y1="15.05" x2="271.93" y2="16.65" stroke="#747474" stroke-width="0.6"/>
<line x1="271.93" y1="115.30" x2="271.93" y2="113.70" stroke="#747474" stroke-width="0.6"/>
<line x1="271.93" y1="215.20" x2="271.93" y2="213.60" stroke="#747474" stroke-width="0.6"/>
<line x1="287.40" y1="15.05" x2="287.40" y2="17.25" stroke="#747474" stroke-width="0.6"/>
<line x1="287.40" y1="115.30" x2="287.40" y2="113.10" stroke="#747474" stroke-width="0.6"/>
<line x1="287.40" y1="215.20" x2="287.40" y2="213.00" stroke="#747474" stroke-width="0.6"/>
<line x1="302.88" y1="15.05" x2="302.88" y2="16.65" stroke="#747474" stroke-width="0.6"/>
<line x1="302.88" y1="115.30" x2="302.88" y2="113.70" stroke="#747474" stroke-width="0.6"/>
<line x1="302.88" y1="215.20" x2="302.88" y2="213.60" stroke="#747474" stroke-width="0.6"/>
<line x1="318.35" y1="15.05" x2="318.35" y2="17.25" stroke="#747474" stroke-width="0.6"/>
<line x1="318.35" y1="115.30" x2="318.35" y2="113.10" stroke="#747474" stroke-width="0.6"/>
<line x1="318.35" y1="215.20" x2="318.35" y2="213.00" stroke="#747474" stroke-width="0.6"/>
<line x1="333.82" y1="15.05" x2="333.82" y2="16.65" stroke="#747474" stroke-width="0.6"/>
<line x1="333.82" y1="115.30" x2="333.82" y2="113.70" stroke="#747474" stroke-width="0.6"/>
<line x1="333.82" y1="215.20" x2="333.82" y2="213.60" stroke="#747474" stroke-width="0.6"/>
<line x1="349.30" y1="15.05" x2="349.30" y2="17.25" stroke="#747474" stroke-width="0.6"/>
<line x1="349.30" y1="115.30" x2="349.30" y2="113.10" stroke="#747474" stroke-width="0.6"/>
<line x1="349.30" y1="215.20" x2="349.30" y2="213.00" stroke="#747474" stroke-width="0.6"/>
<line x1="222.50" y1="109.20" x2="224.60" y2="109.20" stroke="#747474" stroke-width="0.6"/>
<line x1="355.40" y1="109.20" x2="353.30" y2="109.20" stroke="#747474" stroke-width="0.6"/>
<line x1="222.50" y1="101.38" x2="224.60" y2="101.38" stroke="#747474" stroke-width="0.6"/>
<line x1="355.40" y1="101.38" x2="353.30" y2="101.38" stroke="#747474" stroke-width="0.6"/>
<line x1="222.50" y1="93.55" x2="224.60" y2="93.55" stroke="#747474" stroke-width="0.6"/>
<line x1="355.40" y1="93.55" x2="353.30" y2="93.55" stroke="#747474" stroke-width="0.6"/>
<line x1="222.50" y1="85.72" x2="224.60" y2="85.72" stroke="#747474" stroke-width="0.6"/>
<line x1="355.40" y1="85.72" x2="353.30" y2="85.72" stroke="#747474" stroke-width="0.6"/>
<line x1="222.50" y1="77.90" x2="224.60" y2="77.90" stroke="#747474" stroke-width="0.6"/>
<line x1="355.40" y1="77.90" x2="353.30" y2="77.90" stroke="#747474" stroke-width="0.6"/>
<line x1="222.50" y1="70.08" x2="224.60" y2="70.08" stroke="#747474" stroke-width="0.6"/>
<line x1="355.40" y1="70.08" x2="353.30" y2="70.08" stroke="#747474" stroke-width="0.6"/>
<line x1="222.50" y1="62.25" x2="224.60" y2="62.25" stroke="#747474" stroke-width="0.6"/>
<line x1="355.40" y1="62.25" x2="353.30" y2="62.25" stroke="#747474" stroke-width="0.6"/>
<line x1="222.50" y1="54.43" x2="224.60" y2="54.43" stroke="#747474" stroke-width="0.6"/>
<line x1="355.40" y1="54.43" x2="353.30" y2="54.43" stroke="#747474" stroke-width="0.6"/>
<line x1="222.50" y1="46.60" x2="224.60" y2="46.60" stroke="#747474" stroke-width="0.6"/>
<line x1="355.40" y1="46.60" x2="353.30" y2="46.60" stroke="#747474" stroke-width="0.6"/>
<line x1="222.50" y1="38.78" x2="224.60" y2="38.78" stroke="#747474" stroke-width="0.6"/>
<line x1="355.40" y1="38.78" x2="353.30" y2="38.78" stroke="#747474" stroke-width="0.6"/>
<line x1="222.50" y1="30.95" x2="224.60" y2="30.95" stroke="#747474" stroke-width="0.6"/>
<line x1="355.40" y1="30.95" x2="353.30" y2="30.95" stroke="#747474" stroke-width="0.6"/>
<line x1="222.50" y1="23.12" x2="224.60" y2="23.12" stroke="#747474" stroke-width="0.6"/>
<line x1="355.40" y1="23.12" x2="353.30" y2="23.12" stroke="#747474" stroke-width="0.6"/>
<line x1="222.50" y1="207.80" x2="224.60" y2="207.80" stroke="#747474" stroke-width="0.6"/>
<line x1="355.40" y1="207.80" x2="353.30" y2="207.80" stroke="#747474" stroke-width="0.6"/>
<line x1="222.50" y1="188.48" x2="224.60" y2="188.48" stroke="#747474" stroke-width="0.6"/>
<line x1="355.40" y1="188.48" x2="353.30" y2="188.48" stroke="#747474" stroke-width="0.6"/>
<line x1="222.50" y1="169.15" x2="224.60" y2="169.15" stroke="#747474" stroke-width="0.6"/>
<line x1="355.40" y1="169.15" x2="353.30" y2="169.15" stroke="#747474" stroke-width="0.6"/>
<line x1="222.50" y1="149.83" x2="224.60" y2="149.83" stroke="#747474" stroke-width="0.6"/>
<line x1="355.40" y1="149.83" x2="353.30" y2="149.83" stroke="#747474" stroke-width="0.6"/>
<line x1="222.50" y1="130.50" x2="224.60" y2="130.50" stroke="#747474" stroke-width="0.6"/>
<line x1="355.40" y1="130.50" x2="353.30" y2="130.50" stroke="#747474" stroke-width="0.6"/>
<rect x="222.50" y="15.05" width="132.90" height="200.15" fill="none" stroke="#747474" stroke-width="0.9"/>
<line x1="222.50" y1="115.30" x2="355.40" y2="115.30" stroke="#747474" stroke-width="0.9"/>
<text x="189.70" y="12.20" font-size="17.8" text-anchor="start" font-weight="bold" fill="#0c0c0c">b</text>
<text x="225.60" y="11.00" font-size="10.0" text-anchor="middle" font-weight="normal" fill="#2e2e2e" stroke="#2e2e2e" stroke-width="0.22">0</text>
<text x="225.60" y="226.00" font-size="10.0" text-anchor="middle" font-weight="normal" fill="#2e2e2e" stroke="#2e2e2e" stroke-width="0.22">0</text>
<text x="256.55" y="11.00" font-size="10.0" text-anchor="middle" font-weight="normal" fill="#2e2e2e" stroke="#2e2e2e" stroke-width="0.22">100</text>
<text x="256.55" y="226.00" font-size="10.0" text-anchor="middle" font-weight="normal" fill="#2e2e2e" stroke="#2e2e2e" stroke-width="0.22">100</text>
<text x="287.50" y="11.00" font-size="10.0" text-anchor="middle" font-weight="normal" fill="#2e2e2e" stroke="#2e2e2e" stroke-width="0.22">200</text>
<text x="287.50" y="226.00" font-size="10.0" text-anchor="middle" font-weight="normal" fill="#2e2e2e" stroke="#2e2e2e" stroke-width="0.22">200</text>
<text x="318.45" y="11.00" font-size="10.0" text-anchor="middle" font-weight="normal" fill="#2e2e2e" stroke="#2e2e2e" stroke-width="0.22">300</text>
<text x="318.45" y="226.00" font-size="10.0" text-anchor="middle" font-weight="normal" fill="#2e2e2e" stroke="#2e2e2e" stroke-width="0.22">300</text>
<text x="349.40" y="11.00" font-size="10.0" text-anchor="middle" font-weight="normal" fill="#2e2e2e" stroke="#2e2e2e" stroke-width="0.22">400</text>
<text x="349.40" y="226.00" font-size="10.0" text-anchor="middle" font-weight="normal" fill="#2e2e2e" stroke="#2e2e2e" stroke-width="0.22">400</text>
<text x="221.10" y="112.70" font-size="10.0" text-anchor="end" font-weight="normal" fill="#2e2e2e" stroke="#2e2e2e" stroke-width="0.22">0</text>
<text x="221.10" y="97.05" font-size="10.0" text-anchor="end" font-weight="normal" fill="#2e2e2e" stroke="#2e2e2e" stroke-width="0.22">0.5</text>
<text x="221.10" y="81.40" font-size="10.0" text-anchor="end" font-weight="normal" fill="#2e2e2e" stroke="#2e2e2e" stroke-width="0.22">1</text>
<text x="221.10" y="65.75" font-size="10.0" text-anchor="end" font-weight="normal" fill="#2e2e2e" stroke="#2e2e2e" stroke-width="0.22">1.5</text>
<text x="221.10" y="50.10" font-size="10.0" text-anchor="end" font-weight="normal" fill="#2e2e2e" stroke="#2e2e2e" stroke-width="0.22">2</text>
<text x="221.10" y="34.45" font-size="10.0" text-anchor="end" font-weight="normal" fill="#2e2e2e" stroke="#2e2e2e" stroke-width="0.22">2.5</text>
<text x="221.10" y="18.80" font-size="10.0" text-anchor="end" font-weight="normal" fill="#2e2e2e" stroke="#2e2e2e" stroke-width="0.22">3</text>
<text x="221.10" y="211.30" font-size="10.0" text-anchor="end" font-weight="normal" fill="#2e2e2e" stroke="#2e2e2e" stroke-width="0.22">0</text>
<text x="221.10" y="172.65" font-size="10.0" text-anchor="end" font-weight="normal" fill="#2e2e2e" stroke="#2e2e2e" stroke-width="0.22">0.5</text>
<text x="221.10" y="134.00" font-size="10.0" text-anchor="end" font-weight="normal" fill="#2e2e2e" stroke="#2e2e2e" stroke-width="0.22">1</text>
<text x="0" y="0" font-size="12.0" fill="#2e2e2e" stroke="#2e2e2e" stroke-width="0.22" transform="translate(200.60,86.60) rotate(-90)">Strain [%]</text>
<text x="0" y="0" font-size="12.0" fill="#2e2e2e" stroke="#2e2e2e" stroke-width="0.22" transform="translate(202.10,194.00) rotate(-90)">Voltage [kV]</text>
<text x="267.55" y="239.00" font-size="12.4" text-anchor="start" font-weight="normal" fill="#2e2e2e" stroke="#2e2e2e" stroke-width="0.22">Time [s]</text>
<text x="229.00" y="126.90" font-size="9.75" fill="#1e1e1e" stroke="#1e1e1e" stroke-width="0.22"><tspan font-weight="bold">A4R</tspan>, 220 µm, 4.5 V µm<tspan font-size="6.04" dy="-4.09">-1</tspan></text>
<line x1="414.30" y1="16.50" x2="414.30" y2="18.70" stroke="#8c8c8c" stroke-width="0.6"/>
<line x1="414.30" y1="115.00" x2="414.30" y2="112.80" stroke="#8c8c8c" stroke-width="0.6"/>
<line x1="414.30" y1="213.60" x2="414.30" y2="211.40" stroke="#8c8c8c" stroke-width="0.6"/>
<line x1="445.12" y1="16.50" x2="445.12" y2="18.70" stroke="#8c8c8c" stroke-width="0.6"/>
<line x1="445.12" y1="115.00" x2="445.12" y2="112.80" stroke="#8c8c8c" stroke-width="0.6"/>
<line x1="445.12" y1="213.60" x2="445.12" y2="211.40" stroke="#8c8c8c" stroke-width="0.6"/>
<line x1="475.95" y1="16.50" x2="475.95" y2="18.70" stroke="#8c8c8c" stroke-width="0.6"/>
<line x1="475.95" y1="115.00" x2="475.95" y2="112.80" stroke="#8c8c8c" stroke-width="0.6"/>
<line x1="475.95" y1="213.60" x2="475.95" y2="211.40" stroke="#8c8c8c" stroke-width="0.6"/>
<line x1="506.78" y1="16.50" x2="506.78" y2="18.70" stroke="#8c8c8c" stroke-width="0.6"/>
<line x1="506.78" y1="115.00" x2="506.78" y2="112.80" stroke="#8c8c8c" stroke-width="0.6"/>
<line x1="506.78" y1="213.60" x2="506.78" y2="211.40" stroke="#8c8c8c" stroke-width="0.6"/>
<line x1="537.60" y1="16.50" x2="537.60" y2="18.70" stroke="#8c8c8c" stroke-width="0.6"/>
<line x1="537.60" y1="115.00" x2="537.60" y2="112.80" stroke="#8c8c8c" stroke-width="0.6"/>
<line x1="537.60" y1="213.60" x2="537.60" y2="211.40" stroke="#8c8c8c" stroke-width="0.6"/>
<line x1="411.20" y1="108.20" x2="413.30" y2="108.20" stroke="#8c8c8c" stroke-width="0.6"/>
<line x1="543.40" y1="108.20" x2="541.30" y2="108.20" stroke="#8c8c8c" stroke-width="0.6"/>
<line x1="411.20" y1="91.90" x2="413.30" y2="91.90" stroke="#8c8c8c" stroke-width="0.6"/>
<line x1="543.40" y1="91.90" x2="541.30" y2="91.90" stroke="#8c8c8c" stroke-width="0.6"/>
<line x1="411.20" y1="75.60" x2="413.30" y2="75.60" stroke="#8c8c8c" stroke-width="0.6"/>
<line x1="543.40" y1="75.60" x2="541.30" y2="75.60" stroke="#8c8c8c" stroke-width="0.6"/>
<line x1="411.20" y1="59.30" x2="413.30" y2="59.30" stroke="#8c8c8c" stroke-width="0.6"/>
<line x1="543.40" y1="59.30" x2="541.30" y2="59.30" stroke="#8c8c8c" stroke-width="0.6"/>
<line x1="411.20" y1="43.00" x2="413.30" y2="43.00" stroke="#8c8c8c" stroke-width="0.6"/>
<line x1="543.40" y1="43.00" x2="541.30" y2="43.00" stroke="#8c8c8c" stroke-width="0.6"/>
<line x1="411.20" y1="26.70" x2="413.30" y2="26.70" stroke="#8c8c8c" stroke-width="0.6"/>
<line x1="543.40" y1="26.70" x2="541.30" y2="26.70" stroke="#8c8c8c" stroke-width="0.6"/>
<line x1="411.20" y1="206.50" x2="413.30" y2="206.50" stroke="#8c8c8c" stroke-width="0.6"/>
<line x1="543.40" y1="206.50" x2="541.30" y2="206.50" stroke="#8c8c8c" stroke-width="0.6"/>
<line x1="411.20" y1="196.97" x2="413.30" y2="196.97" stroke="#8c8c8c" stroke-width="0.6"/>
<line x1="543.40" y1="196.97" x2="541.30" y2="196.97" stroke="#8c8c8c" stroke-width="0.6"/>
<line x1="411.20" y1="187.45" x2="413.30" y2="187.45" stroke="#8c8c8c" stroke-width="0.6"/>
<line x1="543.40" y1="187.45" x2="541.30" y2="187.45" stroke="#8c8c8c" stroke-width="0.6"/>
<line x1="411.20" y1="177.93" x2="413.30" y2="177.93" stroke="#8c8c8c" stroke-width="0.6"/>
<line x1="543.40" y1="177.93" x2="541.30" y2="177.93" stroke="#8c8c8c" stroke-width="0.6"/>
<line x1="411.20" y1="168.40" x2="413.30" y2="168.40" stroke="#8c8c8c" stroke-width="0.6"/>
<line x1="543.40" y1="168.40" x2="541.30" y2="168.40" stroke="#8c8c8c" stroke-width="0.6"/>
<line x1="411.20" y1="158.88" x2="413.30" y2="158.88" stroke="#8c8c8c" stroke-width="0.6"/>
<line x1="543.40" y1="158.88" x2="541.30" y2="158.88" stroke="#8c8c8c" stroke-width="0.6"/>
<line x1="411.20" y1="149.35" x2="413.30" y2="149.35" stroke="#8c8c8c" stroke-width="0.6"/>
<line x1="543.40" y1="149.35" x2="541.30" y2="149.35" stroke="#8c8c8c" stroke-width="0.6"/>
<line x1="411.20" y1="139.82" x2="413.30" y2="139.82" stroke="#8c8c8c" stroke-width="0.6"/>
<line x1="543.40" y1="139.82" x2="541.30" y2="139.82" stroke="#8c8c8c" stroke-width="0.6"/>
<line x1="411.20" y1="130.30" x2="413.30" y2="130.30" stroke="#8c8c8c" stroke-width="0.6"/>
<line x1="543.40" y1="130.30" x2="541.30" y2="130.30" stroke="#8c8c8c" stroke-width="0.6"/>
<line x1="411.20" y1="120.77" x2="413.30" y2="120.77" stroke="#8c8c8c" stroke-width="0.6"/>
<line x1="543.40" y1="120.77" x2="541.30" y2="120.77" stroke="#8c8c8c" stroke-width="0.6"/>
<rect x="411.20" y="16.50" width="132.20" height="197.10" fill="none" stroke="#8c8c8c" stroke-width="0.9"/>
<line x1="411.20" y1="115.00" x2="543.40" y2="115.00" stroke="#8c8c8c" stroke-width="0.9"/>
<text x="375.40" y="15.10" font-size="16.8" text-anchor="start" font-weight="bold" fill="#0c0c0c">c</text>
<text x="414.40" y="11.90" font-size="10.4" text-anchor="middle" font-weight="normal" fill="#2e2e2e" stroke="#2e2e2e" stroke-width="0.22">0</text>
<text x="414.40" y="224.60" font-size="10.4" text-anchor="middle" font-weight="normal" fill="#2e2e2e" stroke="#2e2e2e" stroke-width="0.22">0</text>
<text x="445.23" y="11.90" font-size="10.4" text-anchor="middle" font-weight="normal" fill="#2e2e2e" stroke="#2e2e2e" stroke-width="0.22">100</text>
<text x="445.23" y="224.60" font-size="10.4" text-anchor="middle" font-weight="normal" fill="#2e2e2e" stroke="#2e2e2e" stroke-width="0.22">100</text>
<text x="476.05" y="11.90" font-size="10.4" text-anchor="middle" font-weight="normal" fill="#2e2e2e" stroke="#2e2e2e" stroke-width="0.22">200</text>
<text x="476.05" y="224.60" font-size="10.4" text-anchor="middle" font-weight="normal" fill="#2e2e2e" stroke="#2e2e2e" stroke-width="0.22">200</text>
<text x="506.88" y="11.90" font-size="10.4" text-anchor="middle" font-weight="normal" fill="#2e2e2e" stroke="#2e2e2e" stroke-width="0.22">300</text>
<text x="506.88" y="224.60" font-size="10.4" text-anchor="middle" font-weight="normal" fill="#2e2e2e" stroke="#2e2e2e" stroke-width="0.22">300</text>
<text x="537.70" y="11.90" font-size="10.4" text-anchor="middle" font-weight="normal" fill="#2e2e2e" stroke="#2e2e2e" stroke-width="0.22">400</text>
<text x="537.70" y="224.60" font-size="10.4" text-anchor="middle" font-weight="normal" fill="#2e2e2e" stroke="#2e2e2e" stroke-width="0.22">400</text>
<text x="408.40" y="111.84" font-size="10.4" text-anchor="end" font-weight="normal" fill="#2e2e2e" stroke="#2e2e2e" stroke-width="0.22">0</text>
<text x="408.40" y="79.24" font-size="10.4" text-anchor="end" font-weight="normal" fill="#2e2e2e" stroke="#2e2e2e" stroke-width="0.22">1</text>
<text x="408.40" y="46.64" font-size="10.4" text-anchor="end" font-weight="normal" fill="#2e2e2e" stroke="#2e2e2e" stroke-width="0.22">2</text>
<text x="408.40" y="210.14" font-size="10.4" text-anchor="end" font-weight="normal" fill="#2e2e2e" stroke="#2e2e2e" stroke-width="0.22">0</text>
<text x="408.40" y="191.09" font-size="10.4" text-anchor="end" font-weight="normal" fill="#2e2e2e" stroke="#2e2e2e" stroke-width="0.22">0.5</text>
<text x="408.40" y="172.04" font-size="10.4" text-anchor="end" font-weight="normal" fill="#2e2e2e" stroke="#2e2e2e" stroke-width="0.22">1</text>
<text x="408.40" y="152.99" font-size="10.4" text-anchor="end" font-weight="normal" fill="#2e2e2e" stroke="#2e2e2e" stroke-width="0.22">1.5</text>
<text x="408.40" y="133.94" font-size="10.4" text-anchor="end" font-weight="normal" fill="#2e2e2e" stroke="#2e2e2e" stroke-width="0.22">2</text>
<text x="0" y="0" font-size="11.9" fill="#2e2e2e" stroke="#2e2e2e" stroke-width="0.22" transform="translate(396.00,89.40) rotate(-90)">Strain [%]</text>
<text x="0" y="0" font-size="11.9" fill="#2e2e2e" stroke="#2e2e2e" stroke-width="0.22" transform="translate(388.30,190.50) rotate(-90)">Voltage [kV]</text>
<text x="456.06" y="239.50" font-size="12.2" text-anchor="start" font-weight="normal" fill="#2e2e2e" stroke="#2e2e2e" stroke-width="0.22">Time [s]</text>
<text x="417.60" y="127.30" font-size="10.9" fill="#1e1e1e" stroke="#1e1e1e" stroke-width="0.22"><tspan font-weight="bold">B1</tspan>, 250 µm, 8 V/µm</text>
</svg>
</body></html>
